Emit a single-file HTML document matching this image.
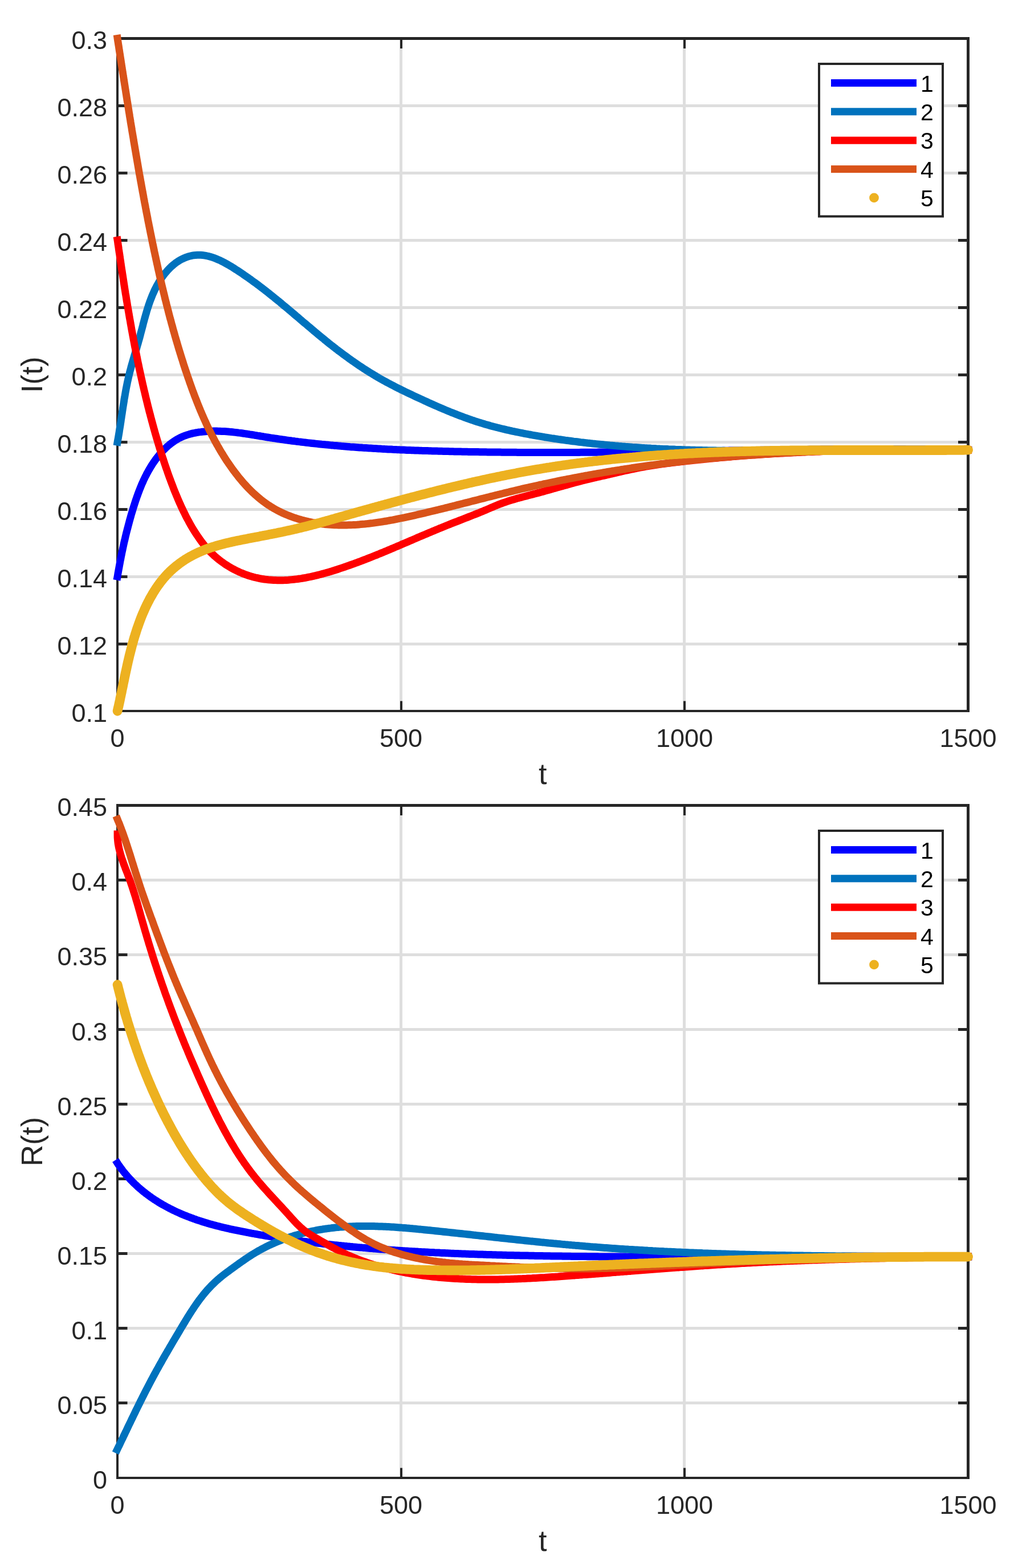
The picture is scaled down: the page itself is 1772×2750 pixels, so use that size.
<!DOCTYPE html>
<html><head><meta charset="utf-8"><title>I(t) and R(t)</title>
<style>html,body{margin:0;padding:0;background:#fff;}svg{display:block;}text{font-family:'Liberation Sans', Arial, Helvetica, sans-serif;}</style>
</head><body>
<svg xmlns="http://www.w3.org/2000/svg" width="1772" height="2750" viewBox="0 0 1772 2750">
<rect width="1772" height="2750" fill="#ffffff"/>
<g fill="#dedede"><rect x="701" y="67.5" width="5" height="1179.5"/><rect x="1198" y="67.5" width="5" height="1179.5"/><rect x="206" y="1127" width="1492.5" height="5"/><rect x="206" y="1009" width="1492.5" height="5"/><rect x="206" y="891" width="1492.5" height="5"/><rect x="206" y="773" width="1492.5" height="5"/><rect x="206" y="655" width="1492.5" height="5"/><rect x="206" y="537" width="1492.5" height="5"/><rect x="206" y="419" width="1492.5" height="5"/><rect x="206" y="301" width="1492.5" height="5"/><rect x="206" y="183" width="1492.5" height="5"/></g>
<g fill="#262626"><rect x="204" y="65" width="4" height="1184"/><rect x="1696" y="65" width="5" height="1184"/><rect x="204" y="65" width="1497" height="5"/><rect x="204" y="1245" width="1497" height="4"/><rect x="702" y="1229.5" width="4" height="17.5"/><rect x="702" y="67.5" width="4" height="17.5"/><rect x="1199" y="1229.5" width="4" height="17.5"/><rect x="1199" y="67.5" width="4" height="17.5"/><rect x="206" y="1127" width="17.5" height="5"/><rect x="1681" y="1127" width="17.5" height="5"/><rect x="206" y="1009" width="17.5" height="5"/><rect x="1681" y="1009" width="17.5" height="5"/><rect x="206" y="891" width="17.5" height="5"/><rect x="1681" y="891" width="17.5" height="5"/><rect x="206" y="773" width="17.5" height="5"/><rect x="1681" y="773" width="17.5" height="5"/><rect x="206" y="655" width="17.5" height="5"/><rect x="1681" y="655" width="17.5" height="5"/><rect x="206" y="537" width="17.5" height="5"/><rect x="1681" y="537" width="17.5" height="5"/><rect x="206" y="419" width="17.5" height="5"/><rect x="1681" y="419" width="17.5" height="5"/><rect x="206" y="301" width="17.5" height="5"/><rect x="1681" y="301" width="17.5" height="5"/><rect x="206" y="183" width="17.5" height="5"/><rect x="1681" y="183" width="17.5" height="5"/></g>
<path d="M206.1,1011.1L206.6,1008.4L207.0,1005.6L207.5,1002.9L208.0,1000.1L208.5,997.4L209.0,994.7L209.5,991.9L210.0,989.2L210.5,986.5L211.0,983.7L211.6,981.0L212.1,978.3L212.6,975.6L213.2,972.9L213.7,970.2L214.3,967.4L214.9,964.7L215.4,962.0L216.0,959.3L216.6,956.6L217.2,953.9L217.8,951.2L218.4,948.5L219.1,945.8L219.7,943.1L220.3,940.4L221.0,937.7L221.6,935.0L222.3,932.4L223.0,929.7L223.7,927.0L224.4,924.3L225.1,921.6L225.8,919.0L226.5,916.3L227.2,913.6L228.0,910.9L228.7,908.3L229.5,905.6L230.2,902.9L231.0,900.3L231.8,897.6L232.6,895.0L233.4,892.3L234.2,889.6L235.1,887.0L235.9,884.3L236.8,881.7L237.6,879.1L238.5,876.4L239.4,873.8L240.3,871.2L241.3,868.6L242.2,865.9L243.2,863.3L244.2,860.7L245.2,858.2L246.2,855.6L247.3,853.0L248.3,850.4L249.4,847.9L250.6,845.4L251.7,842.8L252.9,840.3L254.1,837.8L255.3,835.3L256.6,832.9L257.8,830.4L259.2,828.0L260.5,825.5L261.9,823.1L263.3,820.7L264.8,818.3L266.2,816.0L267.7,813.6L269.3,811.3L270.9,809.0L272.5,806.7L274.2,804.4L275.9,802.2L277.6,800.0L279.4,797.8L281.2,795.7L283.0,793.6L284.9,791.5L286.8,789.5L288.8,787.6L290.8,785.6L292.8,783.7L294.9,781.9L297.0,780.1L299.1,778.4L301.3,776.8L303.5,775.2L305.8,773.6L308.1,772.1L310.4,770.7L312.8,769.4L315.2,768.1L317.7,766.9L320.2,765.8L322.7,764.8L325.3,763.8L327.9,762.9L330.5,762.1L333.2,761.3L335.8,760.6L338.5,759.9L341.3,759.4L344.0,758.8L346.7,758.4L349.5,757.9L352.3,757.6L355.1,757.2L357.9,757.0L360.7,756.7L363.5,756.5L366.3,756.4L369.1,756.2L371.9,756.2L374.7,756.1L377.5,756.1L380.3,756.1L383.1,756.2L385.8,756.2L388.6,756.4L391.4,756.5L394.2,756.6L396.9,756.8L399.7,757.0L402.5,757.3L405.2,757.5L408.0,757.8L410.7,758.1L413.5,758.4L416.3,758.7L419.0,759.1L421.8,759.4L424.5,759.8L427.3,760.2L430.0,760.6L432.7,761.0L435.5,761.4L438.2,761.9L441.0,762.3L443.7,762.7L446.5,763.2L449.2,763.6L451.9,764.1L454.7,764.5L457.4,765.0L460.2,765.4L462.9,765.9L465.6,766.3L468.4,766.8L471.1,767.2L473.9,767.7L476.6,768.1L479.4,768.5L482.1,768.9L484.9,769.3L487.6,769.7L490.3,770.1L493.1,770.5L495.8,770.9L498.6,771.3L501.3,771.7L504.1,772.1L506.8,772.5L509.6,772.8L512.3,773.2L515.1,773.5L517.8,773.9L520.6,774.2L523.3,774.6L526.1,774.9L528.8,775.3L531.6,775.6L534.3,775.9L537.1,776.3L539.8,776.6L542.6,776.9L545.4,777.2L548.1,777.5L550.9,777.8L553.6,778.1L556.4,778.4L559.1,778.7L561.9,779.0L564.7,779.3L567.4,779.5L570.2,779.8L572.9,780.1L575.7,780.3L578.4,780.6L581.2,780.9L584.0,781.1L586.7,781.4L589.5,781.6L592.2,781.8L595.0,782.1L597.8,782.3L600.5,782.6L603.3,782.8L606.1,783.0L608.8,783.2L611.6,783.4L614.3,783.7L617.1,783.9L619.9,784.1L622.6,784.3L625.4,784.5L628.2,784.7L630.9,784.9L633.7,785.1L636.5,785.3L639.2,785.4L642.0,785.6L644.8,785.8L647.5,786.0L650.3,786.1L653.1,786.3L655.8,786.5L658.6,786.6L661.4,786.8L664.1,787.0L666.9,787.1L669.7,787.3L672.4,787.4L675.2,787.6L678.0,787.7L680.8,787.9L683.5,788.0L686.3,788.1L689.1,788.3L691.8,788.4L694.6,788.5L697.4,788.7L700.1,788.8L702.9,788.9L705.7,789.0L708.5,789.1L711.2,789.2L714.0,789.4L716.8,789.5L719.5,789.6L722.3,789.7L725.1,789.8L727.9,789.9L730.6,790.0L733.4,790.1L736.2,790.2L738.9,790.3L741.7,790.4L744.5,790.5L747.3,790.5L750.0,790.6L752.8,790.7L755.6,790.8L758.4,790.9L761.1,791.0L763.9,791.0L766.7,791.1L769.4,791.2L772.2,791.3L775.0,791.3L777.8,791.4L780.5,791.5L783.3,791.5L786.1,791.6L788.9,791.7L791.6,791.7L794.4,791.8L797.2,791.9L800.0,791.9L802.7,792.0L805.5,792.0L808.3,792.1L811.0,792.2L813.8,792.2L816.6,792.3L819.4,792.3L822.1,792.4L824.9,792.4L827.7,792.5L830.5,792.5L833.2,792.6L836.0,792.6L838.8,792.6L841.6,792.7L844.3,792.7L847.1,792.8L849.9,792.8L852.6,792.8L855.4,792.9L858.2,792.9L861.0,792.9L863.7,793.0L866.5,793.0L869.3,793.0L872.1,793.1L874.8,793.1L877.6,793.1L880.4,793.2L883.2,793.2L885.9,793.2L888.7,793.2L891.5,793.2L894.2,793.3L897.0,793.3L899.8,793.3L902.6,793.3L905.3,793.3L908.1,793.4L910.9,793.4L913.7,793.4L916.4,793.4L919.2,793.4L922.0,793.4L924.8,793.4L927.5,793.5L930.3,793.5L933.1,793.5L935.8,793.5L938.6,793.5L941.4,793.5L944.2,793.5L946.9,793.5L949.7,793.5L952.5,793.5L955.3,793.5L958.0,793.5L960.8,793.5L963.6,793.5L966.4,793.5L969.1,793.5L971.9,793.5L974.7,793.5L977.4,793.5L980.2,793.5L983.0,793.5L985.8,793.5L988.5,793.5L991.3,793.5L994.1,793.5L996.9,793.4L999.6,793.4L1002.4,793.4L1005.2,793.4L1008.0,793.4L1010.7,793.4L1013.5,793.4L1016.3,793.4L1019.1,793.3L1021.8,793.3L1024.6,793.3L1027.4,793.3L1030.1,793.3L1032.9,793.3L1035.7,793.2L1038.5,793.2L1041.2,793.2L1044.0,793.2L1046.8,793.2L1049.6,793.1L1052.3,793.1L1055.1,793.1L1057.9,793.1L1060.7,793.0L1063.4,793.0L1066.2,793.0L1069.0,793.0L1071.8,792.9L1074.5,792.9L1077.3,792.9L1080.1,792.9L1082.8,792.8L1085.6,792.8L1088.4,792.8L1091.2,792.8L1093.9,792.7L1096.7,792.7L1099.5,792.7L1102.3,792.6L1105.0,792.6L1107.8,792.6L1110.6,792.5L1113.4,792.5L1116.1,792.5L1118.9,792.4L1121.7,792.4L1124.4,792.4L1127.2,792.3L1130.0,792.3L1132.8,792.3L1135.5,792.2L1138.3,792.2L1141.1,792.2L1143.9,792.1L1146.6,792.1L1149.4,792.1L1152.2,792.0L1155.0,792.0L1157.7,791.9L1160.5,791.9L1163.3,791.9L1166.1,791.8L1168.8,791.8L1171.6,791.7L1174.4,791.7L1177.1,791.7L1179.9,791.6L1182.7,791.6L1185.5,791.6L1188.2,791.5L1191.0,791.5L1193.8,791.4L1196.6,791.4L1199.3,791.3L1202.1,791.3L1204.9,791.3L1207.7,791.2L1210.4,791.2L1213.2,791.1L1216.0,791.1L1218.8,791.1L1221.5,791.0L1224.3,791.0L1227.1,790.9L1229.8,790.9L1232.6,790.9L1235.4,790.8L1238.2,790.8L1240.9,790.7L1243.7,790.7L1246.5,790.6L1249.3,790.6L1252.0,790.6L1254.8,790.5L1257.6,790.5L1260.4,790.4L1263.1,790.4L1265.9,790.4L1268.7,790.3L1271.5,790.3L1274.2,790.2L1277.0,790.2L1279.8,790.1L1282.5,790.1L1285.3,790.1L1288.1,790.0L1290.9,790.0L1293.6,789.9L1296.4,789.9L1299.2,789.9L1302.0,789.8L1304.7,789.8L1307.5,789.7L1310.3,789.7L1313.1,789.7L1315.8,789.6L1318.6,789.6L1321.4,789.5L1324.2,789.5L1326.9,789.5L1329.7,789.4L1332.5,789.4L1335.3,789.3L1338.0,789.3L1340.8,789.3L1343.6,789.2L1346.3,789.2L1349.1,789.2L1351.9,789.1L1354.7,789.1L1357.4,789.0L1360.2,789.0L1363.0,789.0L1365.8,788.9L1368.5,788.9L1371.3,788.9L1374.1,788.8L1376.9,788.8L1379.6,788.8L1382.4,788.7L1385.2,788.7L1388.0,788.7L1390.7,788.6L1393.5,788.6L1396.3,788.6L1399.0,788.5L1401.8,788.5L1404.6,788.5L1407.4,788.5L1410.1,788.4L1412.9,788.4L1415.7,788.4L1418.5,788.3L1421.2,788.3L1424.0,788.3L1426.8,788.3L1429.6,788.2L1432.3,788.2L1435.1,788.2L1437.9,788.2L1440.7,788.1L1443.4,788.1L1446.2,788.1L1449.0,788.1L1451.7,788.0L1454.5,788.0L1457.3,788.0L1460.1,788.0L1462.8,788.0L1465.6,787.9L1468.4,787.9L1471.2,787.9L1473.9,787.9L1476.7,787.9L1479.5,787.9L1482.3,787.9L1485.0,787.8L1487.8,787.8L1490.6,787.8L1493.4,787.8L1496.1,787.8L1498.9,787.8L1501.7,787.8L1504.4,787.8L1507.2,787.7L1510.0,787.7L1512.8,787.7L1515.5,787.7L1518.3,787.7L1521.1,787.7L1523.9,787.7L1526.6,787.7L1529.4,787.7L1532.2,787.7L1535.0,787.7L1537.7,787.7L1540.5,787.7L1543.3,787.7L1546.1,787.7L1548.8,787.7L1551.6,787.7L1554.4,787.7L1557.1,787.7L1559.9,787.7L1562.7,787.7L1565.5,787.7L1568.2,787.7L1571.0,787.8L1573.8,787.8L1576.6,787.8L1579.3,787.8L1582.1,787.8L1584.9,787.8L1587.7,787.8L1590.4,787.9L1593.2,787.9L1596.0,787.9L1598.8,787.9L1601.5,787.9L1604.3,787.9L1607.1,788.0L1609.8,788.0L1612.6,788.0L1615.4,788.0L1618.2,788.1L1620.9,788.1L1623.7,788.1L1626.5,788.2L1629.3,788.2L1632.0,788.2L1634.8,788.2L1637.6,788.3L1640.4,788.3L1643.1,788.3L1645.9,788.4L1648.7,788.4L1651.4,788.5L1654.2,788.5L1657.0,788.5L1659.8,788.6L1662.5,788.6L1665.3,788.7L1668.1,788.7L1670.9,788.8L1673.6,788.8L1676.4,788.9L1679.2,788.9L1682.0,789.0L1684.7,789.0L1687.5,789.1L1690.3,789.1L1693.1,789.2L1695.8,789.2L1698.6,789.3" stroke="#0000ff" stroke-width="13.0" fill="none" stroke-linejoin="round" stroke-linecap="square"/>
<path d="M206.1,775.2L206.6,772.2L207.2,769.3L207.7,766.3L208.2,763.4L208.7,760.4L209.2,757.4L209.6,754.4L210.1,751.4L210.6,748.4L211.1,745.4L211.5,742.4L212.0,739.4L212.4,736.3L212.9,733.3L213.3,730.3L213.8,727.3L214.3,724.2L214.7,721.2L215.2,718.2L215.6,715.2L216.1,712.1L216.6,709.1L217.1,706.1L217.6,703.1L218.0,700.0L218.6,697.0L219.1,694.0L219.6,691.0L220.1,688.0L220.7,685.0L221.2,682.0L221.8,679.0L222.4,676.0L223.0,673.1L223.6,670.1L224.3,667.1L224.9,664.2L225.6,661.3L226.3,658.3L227.0,655.4L227.7,652.5L228.5,649.6L229.3,646.7L230.0,643.8L230.8,640.9L231.7,638.0L232.5,635.1L233.3,632.3L234.1,629.4L235.0,626.5L235.8,623.6L236.7,620.8L237.5,617.9L238.4,615.0L239.3,612.1L240.1,609.2L240.9,606.3L241.8,603.4L242.6,600.5L243.4,597.6L244.3,594.6L245.1,591.7L245.9,588.7L246.6,585.7L247.4,582.8L248.2,579.8L249.0,576.8L249.8,573.8L250.6,570.8L251.3,567.8L252.1,564.8L252.9,561.9L253.7,558.9L254.6,555.9L255.4,552.9L256.3,549.9L257.1,547.0L258.0,544.0L258.9,541.1L259.9,538.1L260.8,535.2L261.8,532.3L262.8,529.4L263.9,526.5L265.0,523.6L266.1,520.8L267.2,518.0L268.4,515.2L269.7,512.4L270.9,509.6L272.2,506.9L273.6,504.2L275.0,501.5L276.5,498.8L278.0,496.2L279.5,493.6L281.1,491.1L282.8,488.5L284.5,486.0L286.3,483.6L288.2,481.1L290.1,478.7L292.1,476.4L294.1,474.1L296.2,471.8L298.4,469.6L300.6,467.5L302.9,465.5L305.3,463.5L307.7,461.6L310.2,459.8L312.7,458.1L315.3,456.5L318.0,455.1L320.7,453.7L323.4,452.5L326.2,451.4L329.0,450.4L331.8,449.5L334.7,448.8L337.6,448.2L340.5,447.7L343.4,447.4L346.3,447.2L349.3,447.2L352.2,447.3L355.1,447.5L358.1,447.9L361.0,448.4L363.9,449.0L366.9,449.7L369.8,450.5L372.7,451.4L375.6,452.4L378.5,453.5L381.3,454.7L384.2,455.9L387.0,457.2L389.8,458.6L392.6,460.0L395.3,461.5L398.0,463.0L400.7,464.5L403.4,466.1L406.1,467.7L408.7,469.3L411.3,471.0L413.9,472.7L416.5,474.3L419.1,476.0L421.6,477.7L424.2,479.4L426.7,481.1L429.2,482.9L431.7,484.6L434.2,486.3L436.7,488.1L439.2,489.8L441.6,491.6L444.1,493.4L446.5,495.2L449.0,496.9L451.4,498.7L453.8,500.5L456.2,502.4L458.6,504.2L461.0,506.0L463.4,507.9L465.8,509.7L468.1,511.6L470.5,513.4L472.9,515.3L475.2,517.2L477.6,519.1L480.0,521.0L482.3,522.9L484.7,524.8L487.0,526.7L489.3,528.6L491.7,530.5L494.0,532.5L496.3,534.4L498.7,536.4L501.0,538.3L503.3,540.2L505.6,542.2L508.0,544.2L510.3,546.1L512.6,548.1L514.9,550.0L517.2,552.0L519.5,554.0L521.9,555.9L524.2,557.9L526.5,559.9L528.8,561.8L531.1,563.8L533.4,565.8L535.8,567.7L538.1,569.7L540.4,571.7L542.7,573.6L545.1,575.6L547.4,577.6L549.7,579.5L552.0,581.5L554.4,583.4L556.7,585.4L559.1,587.3L561.4,589.2L563.8,591.2L566.1,593.1L568.5,595.0L570.8,597.0L573.2,598.9L575.6,600.8L577.9,602.7L580.3,604.6L582.7,606.4L585.1,608.3L587.5,610.2L589.9,612.1L592.3,613.9L594.7,615.8L597.2,617.6L599.6,619.4L602.0,621.2L604.5,623.0L606.9,624.8L609.4,626.6L611.9,628.4L614.3,630.2L616.8,631.9L619.3,633.7L621.8,635.4L624.3,637.1L626.8,638.9L629.3,640.6L631.8,642.3L634.4,643.9L636.9,645.6L639.4,647.3L642.0,648.9L644.5,650.5L647.1,652.1L649.7,653.7L652.3,655.3L654.9,656.9L657.5,658.5L660.1,660.0L662.7,661.6L665.3,663.1L667.9,664.6L670.6,666.1L673.2,667.6L675.9,669.0L678.6,670.5L681.2,671.9L683.9,673.3L686.6,674.7L689.3,676.1L692.0,677.5L694.7,678.9L697.4,680.3L700.1,681.6L702.8,683.0L705.6,684.3L708.3,685.7L711.0,687.0L713.8,688.3L716.5,689.6L719.2,690.9L722.0,692.2L724.7,693.5L727.5,694.8L730.2,696.1L733.0,697.4L735.8,698.7L738.5,699.9L741.3,701.2L744.0,702.5L746.8,703.7L749.6,705.0L752.4,706.3L755.1,707.5L757.9,708.7L760.7,710.0L763.5,711.2L766.2,712.4L769.0,713.6L771.8,714.9L774.6,716.0L777.4,717.2L780.2,718.4L783.0,719.6L785.8,720.8L788.6,721.9L791.4,723.1L794.3,724.2L797.1,725.3L799.9,726.4L802.7,727.5L805.6,728.6L808.4,729.7L811.3,730.7L814.1,731.8L817.0,732.8L819.8,733.9L822.7,734.9L825.5,735.9L828.4,736.9L831.3,737.8L834.2,738.8L837.0,739.7L839.9,740.6L842.8,741.5L845.7,742.4L848.6,743.3L851.6,744.2L854.5,745.0L857.4,745.8L860.3,746.7L863.2,747.5L866.2,748.3L869.1,749.0L872.1,749.8L875.0,750.5L878.0,751.3L880.9,752.0L883.9,752.7L886.8,753.4L889.8,754.1L892.8,754.7L895.7,755.4L898.7,756.1L901.7,756.7L904.7,757.3L907.7,757.9L910.6,758.5L913.6,759.1L916.6,759.7L919.6,760.3L922.6,760.9L925.6,761.4L928.6,762.0L931.6,762.5L934.6,763.1L937.6,763.6L940.6,764.1L943.6,764.7L946.6,765.2L949.6,765.7L952.6,766.2L955.6,766.7L958.6,767.1L961.6,767.6L964.6,768.1L967.6,768.6L970.6,769.0L973.6,769.5L976.6,769.9L979.6,770.4L982.6,770.8L985.6,771.2L988.6,771.6L991.7,772.1L994.7,772.5L997.7,772.9L1000.7,773.3L1003.7,773.7L1006.7,774.1L1009.7,774.4L1012.7,774.8L1015.7,775.2L1018.8,775.6L1021.8,775.9L1024.8,776.3L1027.8,776.6L1030.8,777.0L1033.8,777.3L1036.8,777.6L1039.9,778.0L1042.9,778.3L1045.9,778.6L1048.9,778.9L1051.9,779.2L1055.0,779.5L1058.0,779.8L1061.0,780.1L1064.0,780.4L1067.0,780.7L1070.1,781.0L1073.1,781.2L1076.1,781.5L1079.1,781.8L1082.1,782.0L1085.2,782.3L1088.2,782.5L1091.2,782.8L1094.2,783.0L1097.3,783.3L1100.3,783.5L1103.3,783.7L1106.3,783.9L1109.4,784.2L1112.4,784.4L1115.4,784.6L1118.4,784.8L1121.5,785.0L1124.5,785.2L1127.5,785.4L1130.5,785.6L1133.6,785.7L1136.6,785.9L1139.6,786.1L1142.7,786.3L1145.7,786.4L1148.7,786.6L1151.7,786.8L1154.8,786.9L1157.8,787.1L1160.8,787.2L1163.9,787.4L1166.9,787.5L1169.9,787.6L1173.0,787.8L1176.0,787.9L1179.0,788.0L1182.1,788.1L1185.1,788.3L1188.1,788.4L1191.2,788.5L1194.2,788.6L1197.2,788.7L1200.3,788.8L1203.3,788.9L1206.3,789.0L1209.4,789.1L1212.4,789.2L1215.4,789.3L1218.5,789.3L1221.5,789.4L1224.6,789.5L1227.6,789.6L1230.6,789.6L1233.7,789.7L1236.7,789.8L1239.7,789.8L1242.8,789.9L1245.8,790.0L1248.9,790.0L1251.9,790.1L1254.9,790.1L1258.0,790.2L1261.0,790.2L1264.0,790.3L1267.1,790.3L1270.1,790.3L1273.2,790.4L1276.2,790.4L1279.2,790.4L1282.3,790.5L1285.3,790.5L1288.4,790.5L1291.4,790.5L1294.4,790.5L1297.5,790.6L1300.5,790.6L1303.6,790.6L1306.6,790.6L1309.6,790.6L1312.7,790.6L1315.7,790.6L1318.8,790.6L1321.8,790.6L1324.9,790.6L1327.9,790.6L1330.9,790.6L1334.0,790.6L1337.0,790.6L1340.1,790.6L1343.1,790.6L1346.1,790.6L1349.2,790.6L1352.2,790.5L1355.3,790.5L1358.3,790.5L1361.4,790.5L1364.4,790.5L1367.4,790.5L1370.5,790.4L1373.5,790.4L1376.6,790.4L1379.6,790.4L1382.7,790.3L1385.7,790.3L1388.7,790.3L1391.8,790.3L1394.8,790.2L1397.9,790.2L1400.9,790.2L1404.0,790.1L1407.0,790.1L1410.0,790.1L1413.1,790.0L1416.1,790.0L1419.2,790.0L1422.2,789.9L1425.3,789.9L1428.3,789.8L1431.3,789.8L1434.4,789.8L1437.4,789.7L1440.5,789.7L1443.5,789.7L1446.6,789.6L1449.6,789.6L1452.6,789.5L1455.7,789.5L1458.7,789.5L1461.8,789.4L1464.8,789.4L1467.9,789.3L1470.9,789.3L1473.9,789.3L1477.0,789.2L1480.0,789.2L1483.1,789.1L1486.1,789.1L1489.2,789.1L1492.2,789.0L1495.2,789.0L1498.3,789.0L1501.3,788.9L1504.4,788.9L1507.4,788.8L1510.4,788.8L1513.5,788.8L1516.5,788.7L1519.6,788.7L1522.6,788.7L1525.6,788.6L1528.7,788.6L1531.7,788.6L1534.8,788.6L1537.8,788.5L1540.8,788.5L1543.9,788.5L1546.9,788.4L1550.0,788.4L1553.0,788.4L1556.0,788.4L1559.1,788.4L1562.1,788.3L1565.2,788.3L1568.2,788.3L1571.2,788.3L1574.3,788.3L1577.3,788.3L1580.3,788.2L1583.4,788.2L1586.4,788.2L1589.5,788.2L1592.5,788.2L1595.5,788.2L1598.6,788.2L1601.6,788.2L1604.6,788.2L1607.7,788.2L1610.7,788.2L1613.7,788.2L1616.8,788.2L1619.8,788.2L1622.8,788.3L1625.9,788.3L1628.9,788.3L1631.9,788.3L1635.0,788.3L1638.0,788.3L1641.0,788.4L1644.1,788.4L1647.1,788.4L1650.1,788.5L1653.2,788.5L1656.2,788.5L1659.2,788.6L1662.3,788.6L1665.3,788.6L1668.3,788.7L1671.3,788.7L1674.4,788.8L1677.4,788.8L1680.4,788.9L1683.5,789.0L1686.5,789.0L1689.5,789.1L1692.5,789.2L1695.6,789.2L1698.6,789.3" stroke="#0072bd" stroke-width="13.0" fill="none" stroke-linejoin="round" stroke-linecap="square"/>
<path d="M206.1,421.3L206.6,424.5L207.0,427.8L207.5,431.0L208.0,434.2L208.4,437.4L208.9,440.7L209.4,443.9L209.9,447.1L210.3,450.3L210.8,453.6L211.3,456.8L211.8,460.0L212.2,463.2L212.7,466.5L213.2,469.7L213.7,472.9L214.2,476.1L214.7,479.4L215.2,482.6L215.7,485.8L216.2,489.0L216.7,492.3L217.2,495.5L217.7,498.7L218.2,501.9L218.7,505.2L219.2,508.4L219.7,511.6L220.2,514.8L220.8,518.1L221.3,521.3L221.8,524.5L222.3,527.7L222.9,530.9L223.4,534.2L223.9,537.4L224.5,540.6L225.0,543.8L225.6,547.0L226.1,550.2L226.7,553.5L227.2,556.7L227.8,559.9L228.4,563.1L228.9,566.3L229.5,569.5L230.1,572.7L230.6,575.9L231.2,579.2L231.8,582.4L232.4,585.6L233.0,588.8L233.6,592.0L234.2,595.2L234.8,598.4L235.4,601.6L236.0,604.8L236.6,608.0L237.3,611.2L237.9,614.4L238.5,617.6L239.2,620.8L239.8,624.0L240.4,627.2L241.1,630.4L241.7,633.6L242.4,636.8L243.1,640.0L243.7,643.2L244.4,646.4L245.1,649.6L245.8,652.7L246.5,655.9L247.2,659.1L247.9,662.3L248.6,665.5L249.3,668.7L250.0,671.9L250.7,675.0L251.4,678.2L252.2,681.4L252.9,684.6L253.7,687.7L254.4,690.9L255.2,694.1L255.9,697.3L256.7,700.4L257.5,703.6L258.3,706.8L259.0,709.9L259.8,713.1L260.6,716.2L261.4,719.4L262.2,722.6L263.1,725.7L263.9,728.9L264.7,732.0L265.6,735.2L266.4,738.3L267.3,741.5L268.1,744.6L269.0,747.8L269.8,750.9L270.7,754.1L271.6,757.2L272.5,760.4L273.4,763.5L274.3,766.6L275.2,769.8L276.2,772.9L277.1,776.0L278.0,779.1L279.0,782.3L279.9,785.4L280.9,788.5L281.9,791.6L282.9,794.7L283.8,797.8L284.8,800.9L285.9,804.0L286.9,807.1L287.9,810.2L288.9,813.3L290.0,816.4L291.0,819.5L292.1,822.6L293.2,825.7L294.2,828.7L295.3,831.8L296.4,834.9L297.5,837.9L298.7,841.0L299.8,844.1L300.9,847.1L302.1,850.2L303.3,853.2L304.4,856.2L305.6,859.3L306.8,862.3L308.1,865.3L309.3,868.3L310.6,871.3L311.8,874.3L313.1,877.3L314.4,880.3L315.7,883.3L317.1,886.3L318.4,889.3L319.8,892.2L321.2,895.2L322.6,898.1L324.1,901.0L325.5,904.0L327.0,906.9L328.5,909.8L330.1,912.6L331.6,915.5L333.2,918.4L334.8,921.2L336.4,924.0L338.1,926.8L339.8,929.6L341.5,932.4L343.3,935.1L345.1,937.8L346.9,940.5L348.7,943.2L350.6,945.8L352.5,948.5L354.4,951.1L356.4,953.6L358.4,956.2L360.5,958.7L362.6,961.1L364.8,963.6L367.0,965.9L369.2,968.3L371.6,970.6L373.9,972.8L376.4,975.1L378.8,977.2L381.3,979.3L383.9,981.4L386.5,983.4L389.2,985.4L391.9,987.3L394.6,989.2L397.4,991.0L400.2,992.8L403.0,994.5L405.9,996.2L408.8,997.7L411.7,999.3L414.7,1000.8L417.7,1002.2L420.7,1003.6L423.7,1004.9L426.7,1006.1L429.8,1007.3L432.9,1008.4L436.0,1009.5L439.1,1010.4L442.2,1011.4L445.3,1012.2L448.5,1013.0L451.6,1013.7L454.8,1014.4L457.9,1015.0L461.1,1015.5L464.2,1016.0L467.4,1016.4L470.6,1016.8L473.8,1017.1L477.0,1017.3L480.2,1017.5L483.4,1017.6L486.6,1017.7L489.8,1017.8L493.0,1017.7L496.2,1017.7L499.4,1017.6L502.6,1017.4L505.8,1017.2L509.1,1016.9L512.3,1016.6L515.5,1016.3L518.7,1015.9L522.0,1015.5L525.2,1015.0L528.4,1014.6L531.6,1014.0L534.9,1013.5L538.1,1012.9L541.3,1012.2L544.5,1011.6L547.7,1010.9L551.0,1010.1L554.2,1009.4L557.4,1008.6L560.6,1007.8L563.8,1006.9L567.0,1006.1L570.2,1005.2L573.4,1004.3L576.5,1003.4L579.7,1002.4L582.9,1001.5L586.1,1000.5L589.2,999.5L592.4,998.5L595.5,997.4L598.6,996.4L601.8,995.3L604.9,994.3L608.0,993.2L611.1,992.1L614.2,991.0L617.3,989.9L620.4,988.8L623.5,987.7L626.5,986.6L629.6,985.4L632.7,984.3L635.7,983.1L638.8,981.9L641.8,980.8L644.8,979.6L647.9,978.4L650.9,977.2L653.9,976.0L656.9,974.8L660.0,973.6L663.0,972.4L666.0,971.1L669.0,969.9L672.0,968.7L675.0,967.4L678.0,966.2L681.0,964.9L684.0,963.7L686.9,962.4L689.9,961.2L692.9,959.9L695.9,958.6L698.9,957.4L701.9,956.1L704.8,954.8L707.8,953.5L710.8,952.3L713.8,951.0L716.8,949.7L719.7,948.4L722.7,947.2L725.7,945.9L728.7,944.6L731.7,943.3L734.6,942.0L737.6,940.8L740.6,939.5L743.6,938.2L746.6,937.0L749.6,935.7L752.6,934.4L755.6,933.2L758.6,931.9L761.6,930.7L764.6,929.4L767.6,928.2L770.6,926.9L773.6,925.7L776.7,924.4L779.7,923.2L782.7,922.0L785.8,920.8L788.8,919.6L791.9,918.3L794.9,917.1L798.0,915.9L801.0,914.8L804.1,913.6L807.2,912.4L810.2,911.2L813.3,910.0L816.4,908.8L819.4,907.6L822.5,906.4L825.5,905.2L828.6,904.0L831.7,902.8L834.7,901.6L837.7,900.4L840.8,899.2L843.8,897.9L846.8,896.7L849.8,895.4L852.8,894.2L855.8,892.9L858.8,891.6L861.8,890.3L864.8,889.1L867.7,887.8L870.7,886.6L873.7,885.3L876.7,884.1L879.8,883.0L882.8,881.9L885.9,880.8L888.9,879.8L892.0,878.7L895.1,877.8L898.3,876.8L901.4,875.9L904.5,875.0L907.7,874.1L910.8,873.2L914.0,872.4L917.1,871.5L920.3,870.7L923.5,869.9L926.6,869.0L929.8,868.2L933.0,867.4L936.2,866.6L939.3,865.7L942.5,864.9L945.6,864.1L948.8,863.2L952.0,862.4L955.1,861.5L958.3,860.6L961.4,859.7L964.5,858.9L967.7,858.0L970.8,857.1L974.0,856.2L977.1,855.3L980.2,854.5L983.4,853.6L986.5,852.7L989.6,851.8L992.8,850.9L995.9,850.1L999.0,849.2L1002.2,848.3L1005.3,847.5L1008.5,846.6L1011.6,845.8L1014.8,845.0L1017.9,844.1L1021.1,843.3L1024.2,842.5L1027.4,841.7L1030.5,841.0L1033.7,840.2L1036.9,839.4L1040.0,838.7L1043.2,838.0L1046.4,837.2L1049.6,836.5L1052.7,835.8L1055.9,835.0L1059.1,834.3L1062.3,833.6L1065.4,832.8L1068.6,832.1L1071.8,831.3L1075.0,830.6L1078.1,829.9L1081.3,829.1L1084.5,828.4L1087.7,827.7L1090.8,826.9L1094.0,826.2L1097.2,825.5L1100.4,824.8L1103.6,824.1L1106.7,823.4L1109.9,822.8L1113.1,822.1L1116.3,821.5L1119.5,820.8L1122.7,820.2L1125.9,819.6L1129.1,819.0L1132.3,818.4L1135.5,817.9L1138.7,817.3L1141.9,816.8L1145.2,816.3L1148.4,815.8L1151.6,815.3L1154.8,814.8L1158.1,814.4L1161.3,813.9L1164.5,813.5L1167.8,813.1L1171.0,812.6L1174.3,812.2L1177.5,811.8L1180.7,811.4L1184.0,811.0L1187.2,810.6L1190.5,810.3L1193.7,809.9L1197.0,809.5L1200.2,809.1L1203.5,808.8L1206.7,808.4L1209.9,808.0L1213.2,807.7L1216.4,807.3L1219.7,807.0L1222.9,806.7L1226.2,806.3L1229.4,806.0L1232.7,805.7L1235.9,805.3L1239.2,805.0L1242.4,804.7L1245.7,804.4L1248.9,804.1L1252.2,803.8L1255.4,803.5L1258.7,803.2L1261.9,802.9L1265.2,802.6L1268.4,802.3L1271.7,802.0L1274.9,801.7L1278.2,801.4L1281.4,801.2L1284.7,800.9L1287.9,800.6L1291.2,800.4L1294.4,800.1L1297.7,799.8L1300.9,799.6L1304.2,799.3L1307.4,799.1L1310.7,798.8L1313.9,798.6L1317.2,798.4L1320.4,798.1L1323.7,797.9L1326.9,797.7L1330.2,797.5L1333.4,797.2L1336.7,797.0L1340.0,796.8L1343.2,796.6L1346.5,796.4L1349.7,796.2L1353.0,796.0L1356.2,795.8L1359.5,795.6L1362.7,795.4L1366.0,795.2L1369.3,795.0L1372.5,794.9L1375.8,794.7L1379.0,794.5L1382.3,794.3L1385.5,794.2L1388.8,794.0L1392.0,793.8L1395.3,793.7L1398.6,793.5L1401.8,793.4L1405.1,793.2L1408.3,793.1L1411.6,792.9L1414.8,792.8L1418.1,792.6L1421.4,792.5L1424.6,792.4L1427.9,792.2L1431.1,792.1L1434.4,792.0L1437.7,791.9L1440.9,791.7L1444.2,791.6L1447.4,791.5L1450.7,791.4L1454.0,791.3L1457.2,791.2L1460.5,791.1L1463.7,791.0L1467.0,790.9L1470.2,790.8L1473.5,790.7L1476.8,790.6L1480.0,790.5L1483.3,790.4L1486.6,790.3L1489.8,790.3L1493.1,790.2L1496.3,790.1L1499.6,790.0L1502.9,790.0L1506.1,789.9L1509.4,789.8L1512.6,789.8L1515.9,789.7L1519.2,789.6L1522.4,789.6L1525.7,789.5L1528.9,789.5L1532.2,789.4L1535.5,789.4L1538.7,789.3L1542.0,789.3L1545.3,789.2L1548.5,789.2L1551.8,789.2L1555.0,789.1L1558.3,789.1L1561.6,789.1L1564.8,789.0L1568.1,789.0L1571.3,789.0L1574.6,788.9L1577.9,788.9L1581.1,788.9L1584.4,788.9L1587.7,788.9L1590.9,788.9L1594.2,788.8L1597.4,788.8L1600.7,788.8L1604.0,788.8L1607.2,788.8L1610.5,788.8L1613.8,788.8L1617.0,788.8L1620.3,788.8L1623.6,788.8L1626.8,788.8L1630.1,788.8L1633.3,788.8L1636.6,788.8L1639.9,788.8L1643.1,788.9L1646.4,788.9L1649.7,788.9L1652.9,788.9L1656.2,788.9L1659.4,788.9L1662.7,789.0L1666.0,789.0L1669.2,789.0L1672.5,789.0L1675.8,789.1L1679.0,789.1L1682.3,789.1L1685.5,789.2L1688.8,789.2L1692.1,789.2L1695.3,789.3L1698.6,789.3" stroke="#ff0000" stroke-width="13.0" fill="none" stroke-linejoin="round" stroke-linecap="square"/>
<path d="M206.1,67.4L206.6,70.9L207.2,74.4L207.7,77.9L208.3,81.4L208.8,84.9L209.3,88.4L209.9,91.9L210.4,95.4L211.0,98.9L211.5,102.4L212.1,105.9L212.6,109.4L213.1,112.9L213.7,116.4L214.2,119.9L214.8,123.4L215.3,126.9L215.9,130.4L216.4,133.9L217.0,137.4L217.5,140.9L218.1,144.4L218.6,147.9L219.2,151.4L219.7,154.9L220.3,158.4L220.8,161.9L221.4,165.4L221.9,168.9L222.5,172.4L223.0,175.9L223.6,179.4L224.2,182.9L224.7,186.4L225.3,189.9L225.8,193.4L226.4,197.0L227.0,200.5L227.5,204.0L228.1,207.5L228.7,211.0L229.2,214.5L229.8,218.0L230.4,221.5L231.0,225.0L231.5,228.5L232.1,232.0L232.7,235.5L233.3,239.0L233.9,242.4L234.4,245.9L235.0,249.4L235.6,252.9L236.2,256.4L236.8,259.9L237.4,263.4L238.0,266.9L238.6,270.4L239.2,273.9L239.8,277.4L240.4,280.9L241.0,284.4L241.6,287.9L242.2,291.4L242.8,294.9L243.4,298.4L244.0,301.9L244.6,305.4L245.3,308.9L245.9,312.4L246.5,315.8L247.1,319.3L247.8,322.8L248.4,326.3L249.0,329.8L249.7,333.3L250.3,336.8L251.0,340.3L251.6,343.7L252.2,347.2L252.9,350.7L253.5,354.2L254.2,357.7L254.9,361.2L255.5,364.7L256.2,368.1L256.8,371.6L257.5,375.1L258.2,378.6L258.9,382.1L259.5,385.5L260.2,389.0L260.9,392.5L261.6,396.0L262.3,399.4L263.0,402.9L263.7,406.4L264.4,409.9L265.1,413.3L265.8,416.8L266.5,420.3L267.2,423.8L267.9,427.2L268.7,430.7L269.4,434.2L270.1,437.6L270.8,441.1L271.6,444.6L272.3,448.0L273.1,451.5L273.8,455.0L274.6,458.4L275.3,461.9L276.1,465.3L276.8,468.8L277.6,472.3L278.4,475.7L279.2,479.2L279.9,482.6L280.7,486.1L281.5,489.5L282.3,493.0L283.1,496.4L283.9,499.9L284.7,503.3L285.6,506.8L286.4,510.2L287.2,513.6L288.1,517.1L288.9,520.5L289.7,524.0L290.6,527.4L291.5,530.8L292.3,534.3L293.2,537.7L294.1,541.1L295.0,544.6L295.8,548.0L296.7,551.4L297.6,554.8L298.5,558.3L299.5,561.7L300.4,565.1L301.3,568.5L302.3,571.9L303.2,575.4L304.1,578.8L305.1,582.2L306.1,585.6L307.0,589.0L308.0,592.4L309.0,595.8L310.0,599.2L311.0,602.6L312.0,606.0L313.0,609.4L314.0,612.8L315.1,616.2L316.1,619.6L317.2,623.0L318.2,626.4L319.3,629.7L320.4,633.1L321.4,636.5L322.5,639.9L323.6,643.3L324.7,646.6L325.8,650.0L327.0,653.4L328.1,656.7L329.2,660.1L330.4,663.5L331.6,666.8L332.7,670.2L333.9,673.5L335.1,676.9L336.3,680.2L337.5,683.6L338.7,686.9L340.0,690.2L341.2,693.6L342.5,696.9L343.8,700.2L345.1,703.5L346.4,706.8L347.7,710.1L349.0,713.4L350.4,716.7L351.7,720.0L353.1,723.2L354.5,726.5L355.9,729.7L357.3,733.0L358.8,736.2L360.3,739.4L361.7,742.7L363.2,745.9L364.7,749.1L366.3,752.3L367.8,755.4L369.4,758.6L371.0,761.8L372.6,764.9L374.3,768.0L375.9,771.2L377.6,774.3L379.3,777.4L381.0,780.5L382.8,783.5L384.5,786.6L386.3,789.7L388.1,792.7L390.0,795.7L391.8,798.7L393.7,801.7L395.6,804.7L397.5,807.7L399.5,810.6L401.5,813.5L403.5,816.4L405.5,819.3L407.6,822.2L409.7,825.1L411.8,827.9L414.0,830.8L416.2,833.6L418.4,836.4L420.6,839.1L422.9,841.8L425.2,844.6L427.5,847.2L429.9,849.9L432.3,852.5L434.7,855.1L437.2,857.6L439.7,860.1L442.2,862.6L444.8,865.0L447.4,867.4L450.0,869.7L452.7,872.0L455.4,874.3L458.1,876.5L460.9,878.7L463.8,880.8L466.6,882.9L469.5,884.9L472.5,886.8L475.5,888.7L478.5,890.6L481.6,892.4L484.7,894.1L487.8,895.8L491.0,897.4L494.2,899.0L497.5,900.5L500.8,901.9L504.1,903.3L507.4,904.6L510.7,905.9L514.1,907.1L517.5,908.3L520.9,909.4L524.3,910.5L527.7,911.4L531.1,912.4L534.6,913.3L538.0,914.1L541.5,914.9L545.0,915.6L548.4,916.3L551.9,916.9L555.4,917.5L558.9,918.0L562.4,918.5L565.9,919.0L569.4,919.4L572.9,919.7L576.5,920.0L580.0,920.3L583.5,920.5L587.0,920.7L590.6,920.8L594.1,920.9L597.7,921.0L601.2,921.0L604.7,921.0L608.3,920.9L611.8,920.8L615.4,920.7L618.9,920.6L622.5,920.4L626.0,920.2L629.6,919.9L633.1,919.6L636.6,919.3L640.2,919.0L643.7,918.6L647.2,918.2L650.7,917.8L654.3,917.4L657.8,916.9L661.3,916.4L664.8,915.9L668.3,915.4L671.8,914.8L675.3,914.2L678.8,913.7L682.3,913.0L685.8,912.4L689.2,911.8L692.7,911.1L696.2,910.4L699.7,909.7L703.1,909.0L706.6,908.3L710.1,907.6L713.5,906.8L717.0,906.1L720.5,905.3L723.9,904.6L727.4,903.8L730.8,903.0L734.3,902.2L737.7,901.4L741.2,900.6L744.6,899.8L748.1,899.0L751.5,898.2L755.0,897.3L758.4,896.5L761.9,895.7L765.3,894.8L768.8,894.0L772.2,893.2L775.6,892.3L779.1,891.5L782.5,890.6L786.0,889.7L789.4,888.9L792.8,888.0L796.3,887.2L799.7,886.3L803.1,885.4L806.6,884.5L810.0,883.7L813.4,882.8L816.9,881.9L820.3,881.1L823.7,880.2L827.2,879.3L830.6,878.4L834.0,877.6L837.5,876.7L840.9,875.8L844.3,874.9L847.8,874.1L851.2,873.2L854.7,872.3L858.1,871.5L861.5,870.6L865.0,869.7L868.4,868.9L871.8,868.0L875.3,867.2L878.7,866.3L882.2,865.5L885.6,864.6L889.0,863.8L892.5,863.0L895.9,862.1L899.4,861.3L902.8,860.5L906.3,859.7L909.7,858.8L913.2,858.0L916.6,857.2L920.1,856.4L923.5,855.6L927.0,854.9L930.4,854.1L933.9,853.3L937.4,852.5L940.8,851.8L944.3,851.0L947.7,850.2L951.2,849.5L954.7,848.7L958.1,848.0L961.6,847.3L965.1,846.5L968.5,845.8L972.0,845.1L975.5,844.4L979.0,843.6L982.4,842.9L985.9,842.2L989.4,841.5L992.9,840.9L996.3,840.2L999.8,839.5L1003.3,838.8L1006.8,838.1L1010.3,837.5L1013.7,836.8L1017.2,836.2L1020.7,835.5L1024.2,834.9L1027.7,834.2L1031.2,833.6L1034.7,832.9L1038.1,832.3L1041.6,831.7L1045.1,831.1L1048.6,830.5L1052.1,829.9L1055.6,829.3L1059.1,828.7L1062.6,828.1L1066.1,827.5L1069.6,826.9L1073.1,826.3L1076.6,825.8L1080.1,825.2L1083.6,824.6L1087.1,824.1L1090.6,823.5L1094.1,823.0L1097.6,822.4L1101.1,821.9L1104.6,821.4L1108.1,820.8L1111.6,820.3L1115.1,819.8L1118.6,819.3L1122.2,818.8L1125.7,818.3L1129.2,817.8L1132.7,817.3L1136.2,816.8L1139.7,816.3L1143.2,815.8L1146.7,815.4L1150.3,814.9L1153.8,814.4L1157.3,814.0L1160.8,813.5L1164.3,813.1L1167.8,812.6L1171.4,812.2L1174.9,811.8L1178.4,811.3L1181.9,810.9L1185.4,810.5L1188.9,810.1L1192.5,809.7L1196.0,809.3L1199.5,808.8L1203.0,808.5L1206.6,808.1L1210.1,807.7L1213.6,807.3L1217.1,806.9L1220.7,806.5L1224.2,806.2L1227.7,805.8L1231.2,805.5L1234.8,805.1L1238.3,804.8L1241.8,804.4L1245.3,804.1L1248.9,803.7L1252.4,803.4L1255.9,803.1L1259.4,802.7L1263.0,802.4L1266.5,802.1L1270.0,801.8L1273.6,801.5L1277.1,801.2L1280.6,800.9L1284.2,800.6L1287.7,800.3L1291.2,800.0L1294.8,799.8L1298.3,799.5L1301.8,799.2L1305.4,798.9L1308.9,798.7L1312.4,798.4L1316.0,798.2L1319.5,797.9L1323.0,797.7L1326.6,797.4L1330.1,797.2L1333.6,796.9L1337.2,796.7L1340.7,796.5L1344.3,796.3L1347.8,796.0L1351.3,795.8L1354.9,795.6L1358.4,795.4L1361.9,795.2L1365.5,795.0L1369.0,794.8L1372.6,794.6L1376.1,794.4L1379.6,794.2L1383.2,794.0L1386.7,793.9L1390.3,793.7L1393.8,793.5L1397.3,793.3L1400.9,793.2L1404.4,793.0L1408.0,792.8L1411.5,792.7L1415.0,792.5L1418.6,792.4L1422.1,792.2L1425.7,792.1L1429.2,792.0L1432.8,791.8L1436.3,791.7L1439.8,791.6L1443.4,791.4L1446.9,791.3L1450.5,791.2L1454.0,791.1L1457.6,791.0L1461.1,790.9L1464.6,790.8L1468.2,790.6L1471.7,790.5L1475.3,790.4L1478.8,790.4L1482.4,790.3L1485.9,790.2L1489.5,790.1L1493.0,790.0L1496.5,789.9L1500.1,789.8L1503.6,789.8L1507.2,789.7L1510.7,789.6L1514.3,789.6L1517.8,789.5L1521.4,789.4L1524.9,789.4L1528.5,789.3L1532.0,789.3L1535.5,789.2L1539.1,789.2L1542.6,789.1L1546.2,789.1L1549.7,789.0L1553.3,789.0L1556.8,789.0L1560.4,788.9L1563.9,788.9L1567.5,788.9L1571.0,788.8L1574.5,788.8L1578.1,788.8L1581.6,788.8L1585.2,788.8L1588.7,788.7L1592.3,788.7L1595.8,788.7L1599.4,788.7L1602.9,788.7L1606.5,788.7L1610.0,788.7L1613.5,788.7L1617.1,788.7L1620.6,788.7L1624.2,788.7L1627.7,788.7L1631.3,788.7L1634.8,788.8L1638.4,788.8L1641.9,788.8L1645.4,788.8L1649.0,788.8L1652.5,788.9L1656.1,788.9L1659.6,788.9L1663.2,788.9L1666.7,789.0L1670.3,789.0L1673.8,789.0L1677.3,789.1L1680.9,789.1L1684.4,789.1L1688.0,789.2L1691.5,789.2L1695.1,789.3L1698.6,789.3" stroke="#d95319" stroke-width="13.0" fill="none" stroke-linejoin="round" stroke-linecap="square"/>
<path d="M206.1,1247.0L206.7,1244.2L207.3,1241.5L208.0,1238.7L208.6,1236.0L209.2,1233.2L209.8,1230.5L210.4,1227.7L210.9,1224.9L211.5,1222.2L212.1,1219.4L212.7,1216.6L213.3,1213.9L213.8,1211.1L214.4,1208.3L215.0,1205.6L215.6,1202.8L216.1,1200.0L216.7,1197.3L217.3,1194.5L217.9,1191.7L218.4,1189.0L219.0,1186.2L219.6,1183.4L220.2,1180.6L220.8,1177.9L221.4,1175.1L222.0,1172.4L222.6,1169.6L223.2,1166.8L223.8,1164.1L224.4,1161.3L225.1,1158.5L225.7,1155.8L226.4,1153.0L227.0,1150.3L227.7,1147.5L228.4,1144.8L229.1,1142.0L229.8,1139.3L230.5,1136.6L231.2,1133.8L231.9,1131.1L232.7,1128.3L233.5,1125.6L234.2,1122.9L235.0,1120.2L235.8,1117.4L236.7,1114.7L237.5,1112.0L238.4,1109.3L239.2,1106.6L240.1,1103.9L241.0,1101.2L242.0,1098.5L242.9,1095.8L243.9,1093.1L244.9,1090.4L245.9,1087.7L246.9,1085.1L247.9,1082.4L249.0,1079.7L250.1,1077.1L251.2,1074.5L252.4,1071.8L253.5,1069.2L254.7,1066.6L255.9,1064.0L257.1,1061.4L258.4,1058.9L259.7,1056.3L261.0,1053.8L262.3,1051.2L263.7,1048.7L265.1,1046.3L266.5,1043.8L267.9,1041.3L269.4,1038.9L270.9,1036.5L272.4,1034.1L273.9,1031.8L275.5,1029.5L277.1,1027.1L278.8,1024.9L280.4,1022.6L282.1,1020.4L283.9,1018.2L285.6,1016.0L287.4,1013.9L289.3,1011.7L291.1,1009.7L293.0,1007.6L294.9,1005.6L296.9,1003.6L298.9,1001.7L300.9,999.8L303.0,997.9L305.1,996.1L307.2,994.3L309.4,992.5L311.6,990.8L313.8,989.1L316.0,987.4L318.3,985.8L320.6,984.2L322.9,982.7L325.3,981.1L327.7,979.7L330.1,978.2L332.5,976.8L335.0,975.5L337.5,974.1L340.0,972.8L342.5,971.6L345.0,970.3L347.6,969.1L350.2,968.0L352.7,966.9L355.4,965.8L358.0,964.7L360.6,963.7L363.3,962.7L365.9,961.8L368.6,960.8L371.3,959.9L374.0,959.1L376.7,958.2L379.4,957.4L382.2,956.6L384.9,955.8L387.6,955.1L390.4,954.4L393.2,953.6L395.9,952.9L398.7,952.3L401.5,951.6L404.3,951.0L407.1,950.3L409.9,949.7L412.7,949.1L415.5,948.5L418.3,947.9L421.1,947.4L424.0,946.8L426.8,946.3L429.6,945.7L432.4,945.2L435.2,944.6L438.0,944.1L440.8,943.5L443.6,943.0L446.4,942.5L449.2,941.9L452.0,941.4L454.8,940.9L457.6,940.3L460.4,939.8L463.2,939.2L466.0,938.7L468.8,938.2L471.5,937.6L474.3,937.1L477.1,936.5L479.9,936.0L482.6,935.4L485.4,934.9L488.2,934.3L490.9,933.7L493.7,933.2L496.5,932.6L499.2,932.0L502.0,931.4L504.7,930.8L507.5,930.2L510.2,929.6L513.0,929.0L515.7,928.4L518.5,927.7L521.2,927.1L523.9,926.4L526.7,925.8L529.4,925.1L532.1,924.4L534.9,923.8L537.6,923.1L540.3,922.4L543.1,921.7L545.8,921.0L548.5,920.2L551.2,919.5L554.0,918.8L556.7,918.0L559.4,917.3L562.1,916.6L564.9,915.8L567.6,915.0L570.3,914.3L573.0,913.5L575.7,912.8L578.5,912.0L581.2,911.2L583.9,910.5L586.6,909.7L589.3,908.9L592.1,908.1L594.8,907.4L597.5,906.6L600.2,905.8L602.9,905.1L605.7,904.3L608.4,903.5L611.1,902.8L613.8,902.0L616.6,901.2L619.3,900.5L622.0,899.7L624.7,898.9L627.5,898.2L630.2,897.4L632.9,896.6L635.6,895.9L638.4,895.1L641.1,894.3L643.8,893.6L646.6,892.8L649.3,892.1L652.0,891.3L654.7,890.5L657.5,889.8L660.2,889.0L662.9,888.3L665.7,887.5L668.4,886.8L671.1,886.0L673.9,885.3L676.6,884.5L679.3,883.8L682.1,883.0L684.8,882.3L687.6,881.5L690.3,880.8L693.0,880.1L695.8,879.3L698.5,878.6L701.2,877.8L704.0,877.1L706.7,876.4L709.5,875.6L712.2,874.9L714.9,874.2L717.7,873.5L720.4,872.7L723.2,872.0L725.9,871.3L728.7,870.6L731.4,869.9L734.1,869.1L736.9,868.4L739.6,867.7L742.4,867.0L745.1,866.3L747.9,865.6L750.6,864.9L753.4,864.2L756.1,863.5L758.9,862.8L761.6,862.1L764.4,861.4L767.1,860.7L769.9,860.0L772.6,859.3L775.4,858.7L778.1,858.0L780.9,857.3L783.6,856.6L786.4,855.9L789.1,855.3L791.9,854.6L794.7,853.9L797.4,853.3L800.2,852.6L802.9,852.0L805.7,851.3L808.5,850.7L811.2,850.0L814.0,849.4L816.7,848.7L819.5,848.1L822.3,847.4L825.0,846.8L827.8,846.2L830.5,845.5L833.3,844.9L836.1,844.3L838.8,843.7L841.6,843.1L844.4,842.5L847.1,841.8L849.9,841.2L852.7,840.6L855.4,840.0L858.2,839.4L861.0,838.8L863.7,838.3L866.5,837.7L869.3,837.1L872.1,836.5L874.8,835.9L877.6,835.4L880.4,834.8L883.2,834.2L885.9,833.7L888.7,833.1L891.5,832.6L894.3,832.0L897.0,831.5L899.8,830.9L902.6,830.4L905.4,829.9L908.1,829.3L910.9,828.8L913.7,828.3L916.5,827.8L919.3,827.3L922.1,826.8L924.8,826.3L927.6,825.8L930.4,825.3L933.2,824.8L936.0,824.3L938.8,823.8L941.6,823.3L944.3,822.9L947.1,822.4L949.9,821.9L952.7,821.5L955.5,821.0L958.3,820.6L961.1,820.1L963.9,819.7L966.7,819.2L969.5,818.8L972.3,818.4L975.0,817.9L977.8,817.5L980.6,817.1L983.4,816.7L986.2,816.3L989.0,815.9L991.8,815.5L994.6,815.1L997.4,814.7L1000.2,814.3L1003.0,813.9L1005.8,813.5L1008.6,813.2L1011.4,812.8L1014.2,812.4L1017.0,812.1L1019.8,811.7L1022.6,811.3L1025.4,811.0L1028.2,810.6L1031.0,810.3L1033.9,809.9L1036.7,809.6L1039.5,809.3L1042.3,808.9L1045.1,808.6L1047.9,808.3L1050.7,808.0L1053.5,807.7L1056.3,807.3L1059.1,807.0L1061.9,806.7L1064.7,806.4L1067.6,806.1L1070.4,805.8L1073.2,805.5L1076.0,805.2L1078.8,805.0L1081.6,804.7L1084.4,804.4L1087.2,804.1L1090.1,803.9L1092.9,803.6L1095.7,803.3L1098.5,803.1L1101.3,802.8L1104.1,802.6L1107.0,802.3L1109.8,802.1L1112.6,801.8L1115.4,801.6L1118.2,801.3L1121.1,801.1L1123.9,800.9L1126.7,800.6L1129.5,800.4L1132.3,800.2L1135.2,800.0L1138.0,799.7L1140.8,799.5L1143.6,799.3L1146.4,799.1L1149.3,798.9L1152.1,798.7L1154.9,798.5L1157.7,798.3L1160.6,798.1L1163.4,797.9L1166.2,797.7L1169.0,797.6L1171.9,797.4L1174.7,797.2L1177.5,797.0L1180.3,796.8L1183.2,796.7L1186.0,796.5L1188.8,796.3L1191.6,796.2L1194.5,796.0L1197.3,795.8L1200.1,795.7L1203.0,795.5L1205.8,795.4L1208.6,795.2L1211.4,795.1L1214.3,795.0L1217.1,794.8L1219.9,794.7L1222.8,794.5L1225.6,794.4L1228.4,794.3L1231.3,794.1L1234.1,794.0L1236.9,793.9L1239.7,793.8L1242.6,793.6L1245.4,793.5L1248.2,793.4L1251.1,793.3L1253.9,793.2L1256.7,793.1L1259.6,793.0L1262.4,792.9L1265.2,792.8L1268.1,792.7L1270.9,792.6L1273.7,792.5L1276.6,792.4L1279.4,792.3L1282.2,792.2L1285.1,792.1L1287.9,792.0L1290.7,791.9L1293.6,791.8L1296.4,791.8L1299.3,791.7L1302.1,791.6L1304.9,791.5L1307.8,791.5L1310.6,791.4L1313.4,791.3L1316.3,791.3L1319.1,791.2L1321.9,791.1L1324.8,791.1L1327.6,791.0L1330.5,790.9L1333.3,790.9L1336.1,790.8L1339.0,790.8L1341.8,790.7L1344.6,790.7L1347.5,790.6L1350.3,790.6L1353.1,790.5L1356.0,790.5L1358.8,790.4L1361.7,790.4L1364.5,790.3L1367.3,790.3L1370.2,790.2L1373.0,790.2L1375.8,790.2L1378.7,790.1L1381.5,790.1L1384.4,790.1L1387.2,790.0L1390.0,790.0L1392.9,790.0L1395.7,789.9L1398.6,789.9L1401.4,789.9L1404.2,789.9L1407.1,789.8L1409.9,789.8L1412.7,789.8L1415.6,789.8L1418.4,789.8L1421.3,789.7L1424.1,789.7L1426.9,789.7L1429.8,789.7L1432.6,789.7L1435.4,789.7L1438.3,789.6L1441.1,789.6L1444.0,789.6L1446.8,789.6L1449.6,789.6L1452.5,789.6L1455.3,789.6L1458.1,789.6L1461.0,789.6L1463.8,789.5L1466.6,789.5L1469.5,789.5L1472.3,789.5L1475.2,789.5L1478.0,789.5L1480.8,789.5L1483.7,789.5L1486.5,789.5L1489.3,789.5L1492.2,789.5L1495.0,789.5L1497.8,789.5L1500.7,789.5L1503.5,789.5L1506.4,789.5L1509.2,789.5L1512.0,789.5L1514.9,789.5L1517.7,789.5L1520.5,789.5L1523.4,789.5L1526.2,789.5L1529.0,789.5L1531.9,789.5L1534.7,789.5L1537.5,789.5L1540.4,789.5L1543.2,789.5L1546.0,789.5L1548.9,789.5L1551.7,789.5L1554.5,789.5L1557.4,789.5L1560.2,789.5L1563.0,789.5L1565.9,789.5L1568.7,789.6L1571.5,789.6L1574.3,789.6L1577.2,789.6L1580.0,789.6L1582.8,789.6L1585.7,789.6L1588.5,789.6L1591.3,789.6L1594.2,789.6L1597.0,789.6L1599.8,789.6L1602.6,789.6L1605.5,789.6L1608.3,789.6L1611.1,789.6L1613.9,789.6L1616.8,789.6L1619.6,789.6L1622.4,789.6L1625.2,789.5L1628.1,789.5L1630.9,789.5L1633.7,789.5L1636.5,789.5L1639.4,789.5L1642.2,789.5L1645.0,789.5L1647.8,789.5L1650.7,789.5L1653.5,789.5L1656.3,789.5L1659.1,789.5L1662.0,789.4L1664.8,789.4L1667.6,789.4L1670.4,789.4L1673.2,789.4L1676.1,789.4L1678.9,789.3L1681.7,789.3L1684.5,789.3L1687.3,789.3L1690.1,789.3L1693.0,789.2L1695.8,789.2L1698.6,789.2" stroke="#edb120" stroke-width="16.8" fill="none" stroke-linecap="round" stroke-linejoin="round"/>
<g font-size="45" fill="#262626"><text x="188" y="1265.8" text-anchor="end">0.1</text><text x="188" y="1147.8" text-anchor="end">0.12</text><text x="188" y="1029.9" text-anchor="end">0.14</text><text x="188" y="911.9" text-anchor="end">0.16</text><text x="188" y="794.0" text-anchor="end">0.18</text><text x="188" y="676.0" text-anchor="end">0.2</text><text x="188" y="558.1" text-anchor="end">0.22</text><text x="188" y="440.2" text-anchor="end">0.24</text><text x="188" y="322.2" text-anchor="end">0.26</text><text x="188" y="204.3" text-anchor="end">0.28</text><text x="188" y="86.3" text-anchor="end">0.3</text><text x="206.0" y="1310.0" text-anchor="middle">0</text><text x="703.5" y="1310.0" text-anchor="middle">500</text><text x="1201.0" y="1310.0" text-anchor="middle">1000</text><text x="1698.5" y="1310.0" text-anchor="middle">1500</text></g>
<text x="952.2" y="1374.8" font-size="52" fill="#262626" text-anchor="middle">t</text>
<text transform="translate(73.5,657.2) rotate(-90)" font-size="52" fill="#262626" text-anchor="middle">I(t)</text>
<rect x="1437" y="112.0" width="217.0" height="267.5" fill="#ffffff" stroke="#262626" stroke-width="4"/>
<rect x="1458" y="139.0" width="150" height="13" fill="#0000ff"/>
<text x="1615" y="160.7" font-size="41" fill="#000">1</text>
<rect x="1458" y="189.3" width="150" height="13" fill="#0072bd"/>
<text x="1615" y="211.0" font-size="41" fill="#000">2</text>
<rect x="1458" y="239.7" width="150" height="13" fill="#ff0000"/>
<text x="1615" y="261.4" font-size="41" fill="#000">3</text>
<rect x="1458" y="290.1" width="150" height="13" fill="#d95319"/>
<text x="1615" y="311.8" font-size="41" fill="#000">4</text>
<circle cx="1533.5" cy="346.9" r="8.4" fill="#edb120"/>
<text x="1615" y="362.1" font-size="41" fill="#000">5</text>
<g fill="#dedede"><rect x="701" y="1412.5" width="5" height="1179.5"/><rect x="1198" y="1412.5" width="5" height="1179.5"/><rect x="206" y="2458" width="1492.5" height="5"/><rect x="206" y="2327" width="1492.5" height="5"/><rect x="206" y="2196" width="1492.5" height="5"/><rect x="206" y="2065" width="1492.5" height="5"/><rect x="206" y="1934" width="1492.5" height="5"/><rect x="206" y="1803" width="1492.5" height="5"/><rect x="206" y="1672" width="1492.5" height="5"/><rect x="206" y="1541" width="1492.5" height="5"/></g>
<g fill="#262626"><rect x="204" y="1410" width="4" height="1184"/><rect x="1696" y="1410" width="5" height="1184"/><rect x="204" y="1410" width="1497" height="5"/><rect x="204" y="2590" width="1497" height="4"/><rect x="702" y="2574.5" width="4" height="17.5"/><rect x="702" y="1412.5" width="4" height="17.5"/><rect x="1199" y="2574.5" width="4" height="17.5"/><rect x="1199" y="1412.5" width="4" height="17.5"/><rect x="206" y="2458" width="17.5" height="5"/><rect x="1681" y="2458" width="17.5" height="5"/><rect x="206" y="2327" width="17.5" height="5"/><rect x="1681" y="2327" width="17.5" height="5"/><rect x="206" y="2196" width="17.5" height="5"/><rect x="1681" y="2196" width="17.5" height="5"/><rect x="206" y="2065" width="17.5" height="5"/><rect x="1681" y="2065" width="17.5" height="5"/><rect x="206" y="1934" width="17.5" height="5"/><rect x="1681" y="1934" width="17.5" height="5"/><rect x="206" y="1803" width="17.5" height="5"/><rect x="1681" y="1803" width="17.5" height="5"/><rect x="206" y="1672" width="17.5" height="5"/><rect x="1681" y="1672" width="17.5" height="5"/><rect x="206" y="1541" width="17.5" height="5"/><rect x="1681" y="1541" width="17.5" height="5"/></g>
<path d="M206.1,2040.0L207.5,2042.2L209.0,2044.3L210.5,2046.5L212.0,2048.6L213.6,2050.6L215.1,2052.7L216.7,2054.7L218.3,2056.7L220.0,2058.7L221.6,2060.7L223.3,2062.6L225.0,2064.6L226.7,2066.5L228.5,2068.3L230.2,2070.2L232.0,2072.0L233.8,2073.8L235.6,2075.6L237.5,2077.4L239.3,2079.1L241.2,2080.9L243.1,2082.6L245.0,2084.2L247.0,2085.9L248.9,2087.5L250.9,2089.2L252.9,2090.8L254.9,2092.3L256.9,2093.9L258.9,2095.4L261.0,2096.9L263.0,2098.4L265.1,2099.9L267.2,2101.3L269.3,2102.7L271.4,2104.2L273.6,2105.5L275.7,2106.9L277.9,2108.3L280.1,2109.6L282.2,2110.9L284.4,2112.2L286.6,2113.4L288.9,2114.7L291.1,2115.9L293.3,2117.1L295.6,2118.3L297.8,2119.5L300.1,2120.6L302.4,2121.8L304.7,2122.9L307.0,2124.0L309.3,2125.1L311.6,2126.1L314.0,2127.2L316.3,2128.2L318.6,2129.2L321.0,2130.2L323.4,2131.2L325.7,2132.1L328.1,2133.1L330.5,2134.0L332.9,2134.9L335.3,2135.8L337.7,2136.7L340.1,2137.6L342.5,2138.4L344.9,2139.3L347.3,2140.1L349.8,2140.9L352.2,2141.7L354.6,2142.5L357.1,2143.3L359.5,2144.0L362.0,2144.7L364.4,2145.5L366.9,2146.2L369.4,2146.9L371.8,2147.6L374.3,2148.3L376.8,2148.9L379.2,2149.6L381.7,2150.2L384.2,2150.8L386.7,2151.5L389.2,2152.1L391.7,2152.7L394.2,2153.3L396.7,2153.9L399.2,2154.4L401.7,2155.0L404.2,2155.6L406.7,2156.1L409.2,2156.6L411.7,2157.2L414.2,2157.7L416.7,2158.2L419.2,2158.7L421.7,2159.2L424.2,2159.7L426.8,2160.2L429.3,2160.7L431.8,2161.2L434.3,2161.7L436.8,2162.1L439.4,2162.6L441.9,2163.1L444.4,2163.5L446.9,2164.0L449.4,2164.4L452.0,2164.9L454.5,2165.3L457.0,2165.8L459.5,2166.2L462.1,2166.6L464.6,2167.1L467.1,2167.5L469.6,2167.9L472.2,2168.3L474.7,2168.7L477.2,2169.1L479.8,2169.5L482.3,2169.9L484.8,2170.3L487.3,2170.7L489.9,2171.1L492.4,2171.5L494.9,2171.9L497.5,2172.3L500.0,2172.6L502.5,2173.0L505.0,2173.4L507.6,2173.7L510.1,2174.1L512.6,2174.4L515.2,2174.8L517.7,2175.2L520.2,2175.5L522.8,2175.8L525.3,2176.2L527.8,2176.5L530.4,2176.9L532.9,2177.2L535.5,2177.5L538.0,2177.8L540.5,2178.2L543.1,2178.5L545.6,2178.8L548.1,2179.1L550.7,2179.4L553.2,2179.7L555.8,2180.0L558.3,2180.3L560.8,2180.6L563.4,2180.9L565.9,2181.2L568.5,2181.5L571.0,2181.8L573.5,2182.1L576.1,2182.4L578.6,2182.6L581.2,2182.9L583.7,2183.2L586.2,2183.5L588.8,2183.7L591.3,2184.0L593.9,2184.3L596.4,2184.5L599.0,2184.8L601.5,2185.0L604.0,2185.3L606.6,2185.5L609.1,2185.8L611.7,2186.0L614.2,2186.3L616.8,2186.5L619.3,2186.8L621.9,2187.0L624.4,2187.2L627.0,2187.5L629.5,2187.7L632.0,2187.9L634.6,2188.1L637.1,2188.4L639.7,2188.6L642.2,2188.8L644.8,2189.0L647.3,2189.2L649.9,2189.4L652.4,2189.6L655.0,2189.9L657.5,2190.1L660.1,2190.3L662.6,2190.5L665.2,2190.7L667.7,2190.9L670.3,2191.1L672.8,2191.2L675.4,2191.4L677.9,2191.6L680.5,2191.8L683.0,2192.0L685.6,2192.2L688.1,2192.4L690.7,2192.5L693.2,2192.7L695.8,2192.9L698.3,2193.1L700.9,2193.2L703.4,2193.4L706.0,2193.6L708.5,2193.7L711.1,2193.9L713.6,2194.0L716.2,2194.2L718.8,2194.4L721.3,2194.5L723.9,2194.7L726.4,2194.8L729.0,2195.0L731.5,2195.1L734.1,2195.3L736.6,2195.4L739.2,2195.6L741.7,2195.7L744.3,2195.8L746.9,2196.0L749.4,2196.1L752.0,2196.2L754.5,2196.4L757.1,2196.5L759.6,2196.6L762.2,2196.8L764.7,2196.9L767.3,2197.0L769.9,2197.1L772.4,2197.3L775.0,2197.4L777.5,2197.5L780.1,2197.6L782.6,2197.7L785.2,2197.8L787.8,2197.9L790.3,2198.1L792.9,2198.2L795.4,2198.3L798.0,2198.4L800.5,2198.5L803.1,2198.6L805.7,2198.7L808.2,2198.8L810.8,2198.9L813.3,2199.0L815.9,2199.1L818.4,2199.2L821.0,2199.3L823.6,2199.4L826.1,2199.5L828.7,2199.5L831.2,2199.6L833.8,2199.7L836.3,2199.8L838.9,2199.9L841.5,2200.0L844.0,2200.1L846.6,2200.1L849.1,2200.2L851.7,2200.3L854.3,2200.4L856.8,2200.5L859.4,2200.5L861.9,2200.6L864.5,2200.7L867.1,2200.7L869.6,2200.8L872.2,2200.9L874.7,2201.0L877.3,2201.0L879.8,2201.1L882.4,2201.2L885.0,2201.2L887.5,2201.3L890.1,2201.4L892.6,2201.4L895.2,2201.5L897.8,2201.5L900.3,2201.6L902.9,2201.7L905.4,2201.7L908.0,2201.8L910.6,2201.8L913.1,2201.9L915.7,2201.9L918.2,2202.0L920.8,2202.0L923.4,2202.1L925.9,2202.1L928.5,2202.2L931.0,2202.2L933.6,2202.3L936.2,2202.3L938.7,2202.4L941.3,2202.4L943.8,2202.5L946.4,2202.5L948.9,2202.6L951.5,2202.6L954.1,2202.7L956.6,2202.7L959.2,2202.7L961.7,2202.8L964.3,2202.8L966.9,2202.9L969.4,2202.9L972.0,2203.0L974.5,2203.0L977.1,2203.0L979.7,2203.1L982.2,2203.1L984.8,2203.1L987.3,2203.2L989.9,2203.2L992.4,2203.2L995.0,2203.3L997.6,2203.3L1000.1,2203.3L1002.7,2203.4L1005.2,2203.4L1007.8,2203.4L1010.4,2203.5L1012.9,2203.5L1015.5,2203.5L1018.0,2203.5L1020.6,2203.6L1023.1,2203.6L1025.7,2203.6L1028.3,2203.6L1030.8,2203.7L1033.4,2203.7L1035.9,2203.7L1038.5,2203.7L1041.1,2203.8L1043.6,2203.8L1046.2,2203.8L1048.7,2203.8L1051.3,2203.9L1053.8,2203.9L1056.4,2203.9L1059.0,2203.9L1061.5,2203.9L1064.1,2203.9L1066.6,2204.0L1069.2,2204.0L1071.8,2204.0L1074.3,2204.0L1076.9,2204.0L1079.4,2204.0L1082.0,2204.1L1084.5,2204.1L1087.1,2204.1L1089.7,2204.1L1092.2,2204.1L1094.8,2204.1L1097.3,2204.1L1099.9,2204.2L1102.4,2204.2L1105.0,2204.2L1107.6,2204.2L1110.1,2204.2L1112.7,2204.2L1115.2,2204.2L1117.8,2204.2L1120.4,2204.2L1122.9,2204.2L1125.5,2204.2L1128.0,2204.2L1130.6,2204.3L1133.1,2204.3L1135.7,2204.3L1138.3,2204.3L1140.8,2204.3L1143.4,2204.3L1145.9,2204.3L1148.5,2204.3L1151.0,2204.3L1153.6,2204.3L1156.2,2204.3L1158.7,2204.3L1161.3,2204.3L1163.8,2204.3L1166.4,2204.3L1169.0,2204.3L1171.5,2204.3L1174.1,2204.3L1176.6,2204.3L1179.2,2204.3L1181.7,2204.3L1184.3,2204.3L1186.9,2204.3L1189.4,2204.3L1192.0,2204.3L1194.5,2204.3L1197.1,2204.3L1199.6,2204.3L1202.2,2204.3L1204.8,2204.3L1207.3,2204.3L1209.9,2204.3L1212.4,2204.3L1215.0,2204.3L1217.5,2204.3L1220.1,2204.3L1222.7,2204.3L1225.2,2204.3L1227.8,2204.3L1230.3,2204.2L1232.9,2204.2L1235.5,2204.2L1238.0,2204.2L1240.6,2204.2L1243.1,2204.2L1245.7,2204.2L1248.2,2204.2L1250.8,2204.2L1253.4,2204.2L1255.9,2204.2L1258.5,2204.2L1261.0,2204.2L1263.6,2204.2L1266.1,2204.2L1268.7,2204.1L1271.3,2204.1L1273.8,2204.1L1276.4,2204.1L1278.9,2204.1L1281.5,2204.1L1284.0,2204.1L1286.6,2204.1L1289.2,2204.1L1291.7,2204.1L1294.3,2204.1L1296.8,2204.0L1299.4,2204.0L1302.0,2204.0L1304.5,2204.0L1307.1,2204.0L1309.6,2204.0L1312.2,2204.0L1314.7,2204.0L1317.3,2204.0L1319.9,2204.0L1322.4,2203.9L1325.0,2203.9L1327.5,2203.9L1330.1,2203.9L1332.6,2203.9L1335.2,2203.9L1337.8,2203.9L1340.3,2203.9L1342.9,2203.9L1345.4,2203.8L1348.0,2203.8L1350.6,2203.8L1353.1,2203.8L1355.7,2203.8L1358.2,2203.8L1360.8,2203.8L1363.3,2203.8L1365.9,2203.8L1368.5,2203.7L1371.0,2203.7L1373.6,2203.7L1376.1,2203.7L1378.7,2203.7L1381.2,2203.7L1383.8,2203.7L1386.4,2203.7L1388.9,2203.7L1391.5,2203.6L1394.0,2203.6L1396.6,2203.6L1399.2,2203.6L1401.7,2203.6L1404.3,2203.6L1406.8,2203.6L1409.4,2203.6L1411.9,2203.6L1414.5,2203.6L1417.1,2203.5L1419.6,2203.5L1422.2,2203.5L1424.7,2203.5L1427.3,2203.5L1429.9,2203.5L1432.4,2203.5L1435.0,2203.5L1437.5,2203.5L1440.1,2203.5L1442.6,2203.5L1445.2,2203.4L1447.8,2203.4L1450.3,2203.4L1452.9,2203.4L1455.4,2203.4L1458.0,2203.4L1460.6,2203.4L1463.1,2203.4L1465.7,2203.4L1468.2,2203.4L1470.8,2203.4L1473.3,2203.4L1475.9,2203.4L1478.5,2203.3L1481.0,2203.3L1483.6,2203.3L1486.1,2203.3L1488.7,2203.3L1491.3,2203.3L1493.8,2203.3L1496.4,2203.3L1498.9,2203.3L1501.5,2203.3L1504.1,2203.3L1506.6,2203.3L1509.2,2203.3L1511.7,2203.3L1514.3,2203.3L1516.8,2203.3L1519.4,2203.3L1522.0,2203.3L1524.5,2203.3L1527.1,2203.3L1529.6,2203.3L1532.2,2203.3L1534.8,2203.3L1537.3,2203.3L1539.9,2203.3L1542.4,2203.3L1545.0,2203.3L1547.6,2203.3L1550.1,2203.3L1552.7,2203.3L1555.2,2203.3L1557.8,2203.3L1560.4,2203.3L1562.9,2203.3L1565.5,2203.3L1568.0,2203.3L1570.6,2203.3L1573.1,2203.3L1575.7,2203.3L1578.3,2203.3L1580.8,2203.3L1583.4,2203.3L1585.9,2203.3L1588.5,2203.3L1591.1,2203.3L1593.6,2203.3L1596.2,2203.3L1598.7,2203.3L1601.3,2203.4L1603.9,2203.4L1606.4,2203.4L1609.0,2203.4L1611.5,2203.4L1614.1,2203.4L1616.7,2203.4L1619.2,2203.4L1621.8,2203.4L1624.3,2203.4L1626.9,2203.5L1629.5,2203.5L1632.0,2203.5L1634.6,2203.5L1637.1,2203.5L1639.7,2203.5L1642.3,2203.5L1644.8,2203.6L1647.4,2203.6L1649.9,2203.6L1652.5,2203.6L1655.1,2203.6L1657.6,2203.6L1660.2,2203.7L1662.7,2203.7L1665.3,2203.7L1667.9,2203.7L1670.4,2203.7L1673.0,2203.8L1675.6,2203.8L1678.1,2203.8L1680.7,2203.8L1683.2,2203.8L1685.8,2203.9L1688.4,2203.9L1690.9,2203.9L1693.5,2203.9L1696.0,2204.0L1698.6,2204.0" stroke="#0000ff" stroke-width="13.0" fill="none" stroke-linejoin="round" stroke-linecap="square"/>
<path d="M205.5,2542.5L206.7,2540.0L207.9,2537.4L209.2,2534.9L210.4,2532.4L211.6,2529.8L212.8,2527.3L214.0,2524.7L215.3,2522.2L216.5,2519.6L217.7,2517.1L218.9,2514.6L220.1,2512.0L221.4,2509.5L222.6,2506.9L223.8,2504.4L225.0,2501.8L226.2,2499.3L227.5,2496.7L228.7,2494.2L229.9,2491.6L231.1,2489.1L232.4,2486.5L233.6,2484.0L234.8,2481.5L236.1,2478.9L237.3,2476.4L238.5,2473.8L239.8,2471.3L241.0,2468.8L242.3,2466.2L243.5,2463.7L244.8,2461.1L246.0,2458.6L247.3,2456.1L248.6,2453.6L249.8,2451.0L251.1,2448.5L252.4,2446.0L253.6,2443.5L254.9,2441.0L256.2,2438.4L257.5,2435.9L258.8,2433.4L260.1,2430.9L261.4,2428.4L262.7,2425.9L264.0,2423.4L265.3,2420.9L266.7,2418.5L268.0,2416.0L269.3,2413.5L270.7,2411.0L272.0,2408.5L273.4,2406.1L274.7,2403.6L276.1,2401.1L277.5,2398.7L278.8,2396.2L280.2,2393.8L281.6,2391.3L283.0,2388.9L284.3,2386.4L285.7,2384.0L287.1,2381.5L288.5,2379.1L289.9,2376.6L291.3,2374.2L292.8,2371.8L294.2,2369.3L295.6,2366.9L297.0,2364.5L298.4,2362.0L299.9,2359.6L301.3,2357.1L302.7,2354.7L304.1,2352.3L305.6,2349.9L307.0,2347.4L308.5,2345.0L309.9,2342.6L311.4,2340.1L312.8,2337.7L314.3,2335.3L315.7,2332.8L317.2,2330.4L318.6,2327.9L320.1,2325.5L321.5,2323.1L323.0,2320.6L324.5,2318.2L325.9,2315.8L327.4,2313.4L328.9,2310.9L330.4,2308.5L331.9,2306.1L333.4,2303.7L335.0,2301.3L336.5,2298.9L338.1,2296.6L339.6,2294.2L341.2,2291.9L342.8,2289.5L344.4,2287.2L346.0,2284.9L347.7,2282.6L349.3,2280.3L351.0,2278.1L352.7,2275.8L354.5,2273.6L356.2,2271.4L358.0,2269.2L359.8,2267.1L361.6,2264.9L363.4,2262.8L365.3,2260.8L367.2,2258.7L369.1,2256.7L371.1,2254.6L373.0,2252.7L375.1,2250.7L377.1,2248.8L379.1,2246.9L381.2,2245.0L383.3,2243.2L385.4,2241.4L387.6,2239.6L389.7,2237.8L391.9,2236.1L394.1,2234.4L396.4,2232.7L398.6,2231.1L400.9,2229.4L403.1,2227.8L405.4,2226.1L407.6,2224.5L409.9,2222.8L412.1,2221.2L414.4,2219.5L416.7,2217.9L419.0,2216.2L421.3,2214.6L423.6,2213.0L425.9,2211.4L428.2,2209.8L430.5,2208.2L432.9,2206.6L435.2,2205.0L437.6,2203.5L439.9,2202.0L442.3,2200.4L444.7,2199.0L447.1,2197.5L449.5,2196.1L452.0,2194.6L454.4,2193.2L456.9,2191.9L459.4,2190.5L461.9,2189.2L464.4,2187.9L466.9,2186.6L469.4,2185.4L471.9,2184.2L474.5,2183.0L477.1,2181.8L479.6,2180.7L482.2,2179.5L484.8,2178.4L487.4,2177.4L490.0,2176.3L492.7,2175.3L495.3,2174.3L498.0,2173.3L500.6,2172.3L503.3,2171.4L506.0,2170.5L508.6,2169.6L511.3,2168.7L514.0,2167.9L516.7,2167.0L519.4,2166.2L522.2,2165.5L524.9,2164.7L527.6,2164.0L530.4,2163.2L533.1,2162.5L535.9,2161.9L538.6,2161.2L541.4,2160.6L544.1,2160.0L546.9,2159.4L549.7,2158.8L552.5,2158.3L555.3,2157.7L558.0,2157.2L560.8,2156.7L563.6,2156.3L566.4,2155.8L569.2,2155.4L572.0,2155.0L574.8,2154.6L577.6,2154.2L580.4,2153.9L583.2,2153.5L586.0,2153.2L588.8,2152.9L591.6,2152.6L594.4,2152.4L597.2,2152.1L600.0,2151.9L602.8,2151.7L605.7,2151.5L608.5,2151.3L611.3,2151.2L614.1,2151.0L616.9,2150.9L619.7,2150.8L622.5,2150.7L625.3,2150.6L628.1,2150.5L630.9,2150.5L633.8,2150.4L636.6,2150.4L639.4,2150.4L642.2,2150.4L645.0,2150.4L647.8,2150.4L650.6,2150.5L653.5,2150.5L656.3,2150.6L659.1,2150.7L661.9,2150.8L664.7,2150.9L667.5,2151.0L670.3,2151.1L673.2,2151.2L676.0,2151.3L678.8,2151.5L681.6,2151.6L684.4,2151.8L687.2,2152.0L690.1,2152.1L692.9,2152.3L695.7,2152.5L698.5,2152.7L701.3,2152.9L704.1,2153.1L707.0,2153.4L709.8,2153.6L712.6,2153.8L715.4,2154.1L718.2,2154.3L721.0,2154.6L723.9,2154.8L726.7,2155.1L729.5,2155.3L732.3,2155.6L735.1,2155.9L737.9,2156.1L740.8,2156.4L743.6,2156.7L746.4,2157.0L749.2,2157.3L752.0,2157.6L754.8,2157.8L757.7,2158.1L760.5,2158.4L763.3,2158.7L766.1,2159.0L768.9,2159.3L771.7,2159.6L774.5,2159.9L777.3,2160.2L780.2,2160.5L783.0,2160.8L785.8,2161.1L788.6,2161.4L791.4,2161.7L794.2,2162.0L797.0,2162.3L799.8,2162.6L802.6,2162.9L805.5,2163.2L808.3,2163.5L811.1,2163.8L813.9,2164.1L816.7,2164.4L819.5,2164.7L822.3,2165.0L825.1,2165.3L827.9,2165.6L830.7,2166.0L833.5,2166.3L836.3,2166.6L839.2,2166.9L842.0,2167.2L844.8,2167.5L847.6,2167.8L850.4,2168.1L853.2,2168.4L856.0,2168.7L858.8,2169.0L861.6,2169.3L864.4,2169.6L867.2,2170.0L870.0,2170.3L872.8,2170.6L875.6,2170.9L878.5,2171.2L881.3,2171.5L884.1,2171.8L886.9,2172.1L889.7,2172.4L892.5,2172.7L895.3,2173.0L898.1,2173.3L900.9,2173.6L903.7,2173.9L906.5,2174.2L909.3,2174.5L912.1,2174.8L914.9,2175.1L917.7,2175.4L920.5,2175.7L923.4,2176.0L926.2,2176.3L929.0,2176.6L931.8,2176.9L934.6,2177.1L937.4,2177.4L940.2,2177.7L943.0,2178.0L945.8,2178.3L948.6,2178.6L951.4,2178.9L954.2,2179.1L957.0,2179.4L959.8,2179.7L962.6,2180.0L965.5,2180.2L968.3,2180.5L971.1,2180.8L973.9,2181.0L976.7,2181.3L979.5,2181.6L982.3,2181.8L985.1,2182.1L987.9,2182.4L990.7,2182.6L993.5,2182.9L996.3,2183.1L999.2,2183.4L1002.0,2183.6L1004.8,2183.9L1007.6,2184.1L1010.4,2184.4L1013.2,2184.6L1016.0,2184.8L1018.8,2185.1L1021.6,2185.3L1024.4,2185.5L1027.3,2185.8L1030.1,2186.0L1032.9,2186.2L1035.7,2186.5L1038.5,2186.7L1041.3,2186.9L1044.1,2187.1L1046.9,2187.3L1049.8,2187.6L1052.6,2187.8L1055.4,2188.0L1058.2,2188.2L1061.0,2188.4L1063.8,2188.6L1066.6,2188.8L1069.4,2189.0L1072.3,2189.2L1075.1,2189.4L1077.9,2189.6L1080.7,2189.8L1083.5,2190.0L1086.3,2190.2L1089.1,2190.4L1092.0,2190.5L1094.8,2190.7L1097.6,2190.9L1100.4,2191.1L1103.2,2191.3L1106.0,2191.4L1108.9,2191.6L1111.7,2191.8L1114.5,2192.0L1117.3,2192.1L1120.1,2192.3L1122.9,2192.5L1125.8,2192.6L1128.6,2192.8L1131.4,2193.0L1134.2,2193.1L1137.0,2193.3L1139.8,2193.4L1142.7,2193.6L1145.5,2193.8L1148.3,2193.9L1151.1,2194.1L1153.9,2194.2L1156.7,2194.4L1159.6,2194.5L1162.4,2194.6L1165.2,2194.8L1168.0,2194.9L1170.8,2195.1L1173.7,2195.2L1176.5,2195.3L1179.3,2195.5L1182.1,2195.6L1184.9,2195.7L1187.7,2195.9L1190.6,2196.0L1193.4,2196.1L1196.2,2196.2L1199.0,2196.4L1201.8,2196.5L1204.7,2196.6L1207.5,2196.7L1210.3,2196.9L1213.1,2197.0L1215.9,2197.1L1218.8,2197.2L1221.6,2197.3L1224.4,2197.4L1227.2,2197.5L1230.1,2197.6L1232.9,2197.8L1235.7,2197.9L1238.5,2198.0L1241.3,2198.1L1244.2,2198.2L1247.0,2198.3L1249.8,2198.4L1252.6,2198.5L1255.4,2198.6L1258.3,2198.7L1261.1,2198.8L1263.9,2198.8L1266.7,2198.9L1269.6,2199.0L1272.4,2199.1L1275.2,2199.2L1278.0,2199.3L1280.8,2199.4L1283.7,2199.5L1286.5,2199.5L1289.3,2199.6L1292.1,2199.7L1295.0,2199.8L1297.8,2199.9L1300.6,2199.9L1303.4,2200.0L1306.2,2200.1L1309.1,2200.2L1311.9,2200.2L1314.7,2200.3L1317.5,2200.4L1320.4,2200.5L1323.2,2200.5L1326.0,2200.6L1328.8,2200.7L1331.6,2200.7L1334.5,2200.8L1337.3,2200.9L1340.1,2200.9L1342.9,2201.0L1345.8,2201.0L1348.6,2201.1L1351.4,2201.2L1354.2,2201.2L1357.1,2201.3L1359.9,2201.3L1362.7,2201.4L1365.5,2201.4L1368.4,2201.5L1371.2,2201.5L1374.0,2201.6L1376.8,2201.6L1379.6,2201.7L1382.5,2201.7L1385.3,2201.8L1388.1,2201.8L1390.9,2201.9L1393.8,2201.9L1396.6,2202.0L1399.4,2202.0L1402.2,2202.1L1405.1,2202.1L1407.9,2202.1L1410.7,2202.2L1413.5,2202.2L1416.4,2202.3L1419.2,2202.3L1422.0,2202.3L1424.8,2202.4L1427.7,2202.4L1430.5,2202.5L1433.3,2202.5L1436.1,2202.5L1439.0,2202.6L1441.8,2202.6L1444.6,2202.6L1447.4,2202.7L1450.2,2202.7L1453.1,2202.7L1455.9,2202.7L1458.7,2202.8L1461.5,2202.8L1464.4,2202.8L1467.2,2202.9L1470.0,2202.9L1472.8,2202.9L1475.7,2202.9L1478.5,2203.0L1481.3,2203.0L1484.1,2203.0L1487.0,2203.0L1489.8,2203.1L1492.6,2203.1L1495.4,2203.1L1498.3,2203.1L1501.1,2203.1L1503.9,2203.2L1506.7,2203.2L1509.6,2203.2L1512.4,2203.2L1515.2,2203.2L1518.0,2203.3L1520.8,2203.3L1523.7,2203.3L1526.5,2203.3L1529.3,2203.3L1532.1,2203.3L1535.0,2203.4L1537.8,2203.4L1540.6,2203.4L1543.4,2203.4L1546.3,2203.4L1549.1,2203.4L1551.9,2203.5L1554.7,2203.5L1557.5,2203.5L1560.4,2203.5L1563.2,2203.5L1566.0,2203.5L1568.8,2203.5L1571.7,2203.5L1574.5,2203.6L1577.3,2203.6L1580.1,2203.6L1583.0,2203.6L1585.8,2203.6L1588.6,2203.6L1591.4,2203.6L1594.2,2203.6L1597.1,2203.6L1599.9,2203.7L1602.7,2203.7L1605.5,2203.7L1608.3,2203.7L1611.2,2203.7L1614.0,2203.7L1616.8,2203.7L1619.6,2203.7L1622.5,2203.7L1625.3,2203.7L1628.1,2203.8L1630.9,2203.8L1633.7,2203.8L1636.6,2203.8L1639.4,2203.8L1642.2,2203.8L1645.0,2203.8L1647.8,2203.8L1650.7,2203.8L1653.5,2203.8L1656.3,2203.8L1659.1,2203.9L1661.9,2203.9L1664.8,2203.9L1667.6,2203.9L1670.4,2203.9L1673.2,2203.9L1676.0,2203.9L1678.9,2203.9L1681.7,2203.9L1684.5,2203.9L1687.3,2204.0L1690.1,2204.0L1693.0,2204.0L1695.8,2204.0L1698.6,2204.0" stroke="#0072bd" stroke-width="13.0" fill="none" stroke-linejoin="round" stroke-linecap="square"/>
<path d="M206.1,1463.0L206.1,1466.4L206.2,1469.7L206.5,1473.0L206.8,1476.3L207.2,1479.5L207.8,1482.8L208.4,1486.0L209.1,1489.2L209.9,1492.3L210.7,1495.5L211.6,1498.6L212.5,1501.7L213.5,1504.8L214.6,1507.9L215.6,1511.0L216.7,1514.1L217.8,1517.2L219.0,1520.2L220.1,1523.3L221.3,1526.4L222.5,1529.4L223.7,1532.5L224.8,1535.6L226.0,1538.6L227.1,1541.7L228.3,1544.8L229.4,1547.9L230.4,1551.0L231.5,1554.1L232.5,1557.2L233.5,1560.3L234.5,1563.5L235.5,1566.6L236.5,1569.7L237.5,1572.8L238.4,1576.0L239.3,1579.1L240.3,1582.3L241.2,1585.4L242.1,1588.6L243.0,1591.7L243.9,1594.9L244.8,1598.0L245.7,1601.2L246.5,1604.3L247.4,1607.5L248.3,1610.7L249.2,1613.8L250.1,1617.0L251.0,1620.1L251.9,1623.3L252.8,1626.4L253.7,1629.6L254.6,1632.7L255.5,1635.8L256.5,1639.0L257.4,1642.1L258.3,1645.3L259.3,1648.4L260.2,1651.5L261.1,1654.7L262.1,1657.8L263.1,1660.9L264.0,1664.1L265.0,1667.2L266.0,1670.3L266.9,1673.4L267.9,1676.6L268.9,1679.7L269.9,1682.8L270.9,1685.9L271.9,1689.0L272.9,1692.1L274.0,1695.2L275.0,1698.4L276.0,1701.5L277.0,1704.6L278.1,1707.7L279.1,1710.8L280.2,1713.9L281.2,1717.0L282.3,1720.1L283.3,1723.2L284.4,1726.3L285.5,1729.4L286.6,1732.5L287.7,1735.6L288.7,1738.7L289.8,1741.8L290.9,1744.9L292.1,1748.0L293.2,1751.0L294.3,1754.1L295.4,1757.2L296.5,1760.3L297.7,1763.4L298.8,1766.4L300.0,1769.5L301.1,1772.6L302.3,1775.7L303.4,1778.7L304.6,1781.8L305.7,1784.9L306.9,1787.9L308.1,1791.0L309.3,1794.0L310.5,1797.1L311.7,1800.1L312.9,1803.2L314.1,1806.2L315.3,1809.3L316.5,1812.3L317.7,1815.4L318.9,1818.4L320.1,1821.4L321.4,1824.4L322.6,1827.5L323.8,1830.5L325.1,1833.5L326.3,1836.5L327.6,1839.5L328.9,1842.6L330.1,1845.6L331.4,1848.6L332.6,1851.6L333.9,1854.6L335.2,1857.6L336.5,1860.6L337.8,1863.6L339.1,1866.6L340.4,1869.6L341.7,1872.6L343.0,1875.6L344.3,1878.6L345.6,1881.6L346.9,1884.6L348.2,1887.6L349.5,1890.6L350.9,1893.6L352.2,1896.6L353.5,1899.6L354.9,1902.6L356.2,1905.6L357.6,1908.6L358.9,1911.5L360.3,1914.5L361.6,1917.5L363.0,1920.5L364.4,1923.5L365.8,1926.5L367.2,1929.5L368.6,1932.4L370.0,1935.4L371.4,1938.4L372.8,1941.3L374.2,1944.3L375.7,1947.2L377.1,1950.2L378.5,1953.1L380.0,1956.1L381.5,1959.0L383.0,1962.0L384.4,1964.9L385.9,1967.8L387.5,1970.7L389.0,1973.6L390.5,1976.5L392.1,1979.4L393.6,1982.3L395.2,1985.2L396.8,1988.1L398.4,1990.9L400.0,1993.8L401.6,1996.6L403.2,1999.5L404.9,2002.3L406.5,2005.1L408.2,2007.9L409.9,2010.7L411.6,2013.5L413.3,2016.3L415.0,2019.1L416.8,2021.8L418.5,2024.6L420.3,2027.3L422.1,2030.1L423.9,2032.8L425.8,2035.5L427.6,2038.2L429.5,2040.9L431.4,2043.5L433.3,2046.2L435.2,2048.8L437.1,2051.4L439.1,2054.1L441.1,2056.7L443.1,2059.2L445.1,2061.8L447.1,2064.4L449.2,2066.9L451.2,2069.4L453.3,2072.0L455.5,2074.5L457.6,2076.9L459.7,2079.4L461.9,2081.9L464.1,2084.3L466.3,2086.8L468.5,2089.2L470.7,2091.7L472.9,2094.1L475.1,2096.5L477.4,2098.9L479.6,2101.3L481.8,2103.8L484.1,2106.2L486.3,2108.6L488.5,2111.0L490.8,2113.4L493.0,2115.8L495.3,2118.2L497.5,2120.7L499.7,2123.1L501.9,2125.5L504.1,2128.0L506.3,2130.4L508.5,2132.9L510.7,2135.3L512.9,2137.8L515.1,2140.2L517.3,2142.6L519.6,2145.0L521.9,2147.3L524.2,2149.5L526.6,2151.8L529.0,2153.9L531.4,2156.0L533.9,2158.0L536.5,2160.0L539.1,2161.8L541.8,2163.6L544.6,2165.4L547.3,2167.1L550.1,2168.8L552.9,2170.4L555.8,2172.1L558.6,2173.7L561.4,2175.3L564.3,2177.0L567.2,2178.6L570.0,2180.3L572.9,2181.9L575.8,2183.5L578.6,2185.1L581.5,2186.7L584.4,2188.3L587.3,2189.8L590.3,2191.4L593.2,2192.9L596.1,2194.4L599.1,2195.8L602.0,2197.3L605.0,2198.7L608.0,2200.1L611.0,2201.4L614.0,2202.7L617.0,2204.1L620.0,2205.3L623.1,2206.6L626.1,2207.8L629.2,2209.0L632.2,2210.2L635.3,2211.3L638.4,2212.4L641.5,2213.5L644.6,2214.6L647.7,2215.7L650.8,2216.7L653.9,2217.7L657.0,2218.7L660.1,2219.6L663.3,2220.6L666.4,2221.5L669.6,2222.4L672.8,2223.2L675.9,2224.1L679.1,2224.9L682.3,2225.7L685.5,2226.5L688.6,2227.2L691.8,2228.0L695.0,2228.7L698.2,2229.4L701.5,2230.0L704.7,2230.7L707.9,2231.3L711.1,2232.0L714.3,2232.6L717.6,2233.1L720.8,2233.7L724.0,2234.3L727.3,2234.8L730.5,2235.3L733.7,2235.8L737.0,2236.3L740.2,2236.7L743.5,2237.2L746.7,2237.6L750.0,2238.0L753.2,2238.4L756.5,2238.8L759.7,2239.2L763.0,2239.5L766.3,2239.8L769.5,2240.2L772.8,2240.5L776.0,2240.8L779.3,2241.0L782.6,2241.3L785.8,2241.6L789.1,2241.8L792.3,2242.0L795.6,2242.2L798.9,2242.4L802.1,2242.6L805.4,2242.8L808.7,2242.9L811.9,2243.1L815.2,2243.2L818.5,2243.4L821.7,2243.5L825.0,2243.6L828.3,2243.7L831.5,2243.7L834.8,2243.8L838.1,2243.9L841.3,2243.9L844.6,2244.0L847.9,2244.0L851.2,2244.0L854.4,2244.0L857.7,2244.0L861.0,2244.0L864.2,2244.0L867.5,2243.9L870.8,2243.9L874.1,2243.9L877.3,2243.8L880.6,2243.7L883.9,2243.7L887.2,2243.6L890.4,2243.5L893.7,2243.4L897.0,2243.3L900.3,2243.2L903.5,2243.1L906.8,2243.0L910.1,2242.8L913.4,2242.7L916.6,2242.6L919.9,2242.4L923.2,2242.3L926.5,2242.1L929.7,2241.9L933.0,2241.8L936.3,2241.6L939.6,2241.4L942.9,2241.2L946.1,2241.0L949.4,2240.8L952.7,2240.7L956.0,2240.5L959.2,2240.2L962.5,2240.0L965.8,2239.8L969.1,2239.6L972.3,2239.4L975.6,2239.2L978.9,2239.0L982.2,2238.7L985.4,2238.5L988.7,2238.3L992.0,2238.0L995.2,2237.8L998.5,2237.6L1001.8,2237.3L1005.1,2237.1L1008.3,2236.9L1011.6,2236.6L1014.9,2236.4L1018.2,2236.1L1021.4,2235.9L1024.7,2235.6L1028.0,2235.4L1031.2,2235.2L1034.5,2234.9L1037.8,2234.7L1041.0,2234.4L1044.3,2234.2L1047.6,2233.9L1050.9,2233.7L1054.1,2233.4L1057.4,2233.2L1060.7,2232.9L1063.9,2232.7L1067.2,2232.4L1070.5,2232.2L1073.7,2231.9L1077.0,2231.6L1080.3,2231.4L1083.5,2231.1L1086.8,2230.9L1090.1,2230.6L1093.3,2230.4L1096.6,2230.1L1099.9,2229.9L1103.1,2229.6L1106.4,2229.4L1109.7,2229.1L1112.9,2228.8L1116.2,2228.6L1119.4,2228.3L1122.7,2228.1L1126.0,2227.8L1129.2,2227.6L1132.5,2227.3L1135.8,2227.1L1139.0,2226.8L1142.3,2226.6L1145.6,2226.3L1148.8,2226.1L1152.1,2225.8L1155.4,2225.6L1158.6,2225.3L1161.9,2225.1L1165.2,2224.8L1168.4,2224.6L1171.7,2224.3L1174.9,2224.1L1178.2,2223.8L1181.5,2223.6L1184.7,2223.3L1188.0,2223.1L1191.3,2222.9L1194.5,2222.6L1197.8,2222.4L1201.1,2222.2L1204.3,2221.9L1207.6,2221.7L1210.9,2221.5L1214.1,2221.2L1217.4,2221.0L1220.7,2220.8L1223.9,2220.5L1227.2,2220.3L1230.4,2220.1L1233.7,2219.9L1237.0,2219.6L1240.2,2219.4L1243.5,2219.2L1246.8,2219.0L1250.0,2218.8L1253.3,2218.6L1256.6,2218.3L1259.8,2218.1L1263.1,2217.9L1266.4,2217.7L1269.7,2217.5L1272.9,2217.3L1276.2,2217.1L1279.5,2216.9L1282.7,2216.7L1286.0,2216.5L1289.3,2216.4L1292.5,2216.2L1295.8,2216.0L1299.1,2215.8L1302.3,2215.6L1305.6,2215.4L1308.9,2215.3L1312.2,2215.1L1315.4,2214.9L1318.7,2214.7L1322.0,2214.6L1325.2,2214.4L1328.5,2214.2L1331.8,2214.1L1335.1,2213.9L1338.3,2213.8L1341.6,2213.6L1344.9,2213.4L1348.1,2213.3L1351.4,2213.1L1354.7,2213.0L1358.0,2212.8L1361.2,2212.7L1364.5,2212.5L1367.8,2212.4L1371.1,2212.3L1374.3,2212.1L1377.6,2212.0L1380.9,2211.8L1384.2,2211.7L1387.4,2211.6L1390.7,2211.4L1394.0,2211.3L1397.2,2211.2L1400.5,2211.1L1403.8,2210.9L1407.1,2210.8L1410.3,2210.7L1413.6,2210.6L1416.9,2210.5L1420.2,2210.3L1423.5,2210.2L1426.7,2210.1L1430.0,2210.0L1433.3,2209.9L1436.6,2209.8L1439.8,2209.7L1443.1,2209.6L1446.4,2209.4L1449.7,2209.3L1452.9,2209.2L1456.2,2209.1L1459.5,2209.0L1462.8,2208.9L1466.0,2208.8L1469.3,2208.7L1472.6,2208.6L1475.9,2208.6L1479.1,2208.5L1482.4,2208.4L1485.7,2208.3L1489.0,2208.2L1492.3,2208.1L1495.5,2208.0L1498.8,2207.9L1502.1,2207.8L1505.4,2207.8L1508.6,2207.7L1511.9,2207.6L1515.2,2207.5L1518.5,2207.4L1521.7,2207.3L1525.0,2207.3L1528.3,2207.2L1531.6,2207.1L1534.9,2207.0L1538.1,2207.0L1541.4,2206.9L1544.7,2206.8L1548.0,2206.7L1551.2,2206.7L1554.5,2206.6L1557.8,2206.5L1561.1,2206.5L1564.3,2206.4L1567.6,2206.3L1570.9,2206.3L1574.2,2206.2L1577.5,2206.1L1580.7,2206.1L1584.0,2206.0L1587.3,2205.9L1590.6,2205.9L1593.8,2205.8L1597.1,2205.7L1600.4,2205.7L1603.7,2205.6L1606.9,2205.6L1610.2,2205.5L1613.5,2205.4L1616.8,2205.4L1620.0,2205.3L1623.3,2205.3L1626.6,2205.2L1629.9,2205.1L1633.1,2205.1L1636.4,2205.0L1639.7,2205.0L1643.0,2204.9L1646.2,2204.9L1649.5,2204.8L1652.8,2204.8L1656.1,2204.7L1659.3,2204.6L1662.6,2204.6L1665.9,2204.5L1669.1,2204.5L1672.4,2204.4L1675.7,2204.4L1679.0,2204.3L1682.2,2204.3L1685.5,2204.2L1688.8,2204.2L1692.1,2204.1L1695.3,2204.1L1698.6,2204.0" stroke="#ff0000" stroke-width="13.0" fill="none" stroke-linejoin="round" stroke-linecap="square"/>
<path d="M206.1,1437.0L207.3,1440.0L208.6,1443.0L209.8,1446.0L210.9,1449.0L212.1,1452.1L213.2,1455.1L214.4,1458.1L215.5,1461.2L216.6,1464.2L217.6,1467.3L218.7,1470.3L219.8,1473.4L220.8,1476.5L221.8,1479.5L222.8,1482.6L223.8,1485.7L224.8,1488.8L225.8,1491.8L226.8,1494.9L227.8,1498.0L228.8,1501.1L229.7,1504.2L230.7,1507.3L231.6,1510.4L232.6,1513.5L233.6,1516.6L234.5,1519.7L235.5,1522.8L236.5,1525.8L237.4,1528.9L238.4,1532.0L239.4,1535.1L240.4,1538.2L241.4,1541.3L242.4,1544.4L243.4,1547.4L244.4,1550.5L245.4,1553.6L246.4,1556.7L247.5,1559.7L248.5,1562.8L249.6,1565.9L250.6,1568.9L251.7,1572.0L252.8,1575.0L253.8,1578.1L254.9,1581.1L256.0,1584.2L257.1,1587.2L258.2,1590.3L259.3,1593.3L260.4,1596.4L261.5,1599.4L262.6,1602.5L263.7,1605.5L264.8,1608.6L266.0,1611.6L267.1,1614.6L268.2,1617.7L269.3,1620.7L270.4,1623.8L271.5,1626.8L272.7,1629.9L273.8,1632.9L274.9,1635.9L276.0,1639.0L277.2,1642.0L278.3,1645.0L279.4,1648.1L280.6,1651.1L281.7,1654.2L282.8,1657.2L284.0,1660.2L285.1,1663.2L286.3,1666.3L287.4,1669.3L288.6,1672.3L289.7,1675.4L290.9,1678.4L292.1,1681.4L293.2,1684.4L294.4,1687.4L295.6,1690.5L296.8,1693.5L298.0,1696.5L299.2,1699.5L300.4,1702.5L301.6,1705.5L302.8,1708.5L304.0,1711.5L305.2,1714.5L306.5,1717.5L307.7,1720.5L309.0,1723.5L310.2,1726.5L311.5,1729.4L312.7,1732.4L314.0,1735.4L315.3,1738.4L316.6,1741.3L317.9,1744.3L319.2,1747.3L320.5,1750.2L321.8,1753.2L323.1,1756.2L324.4,1759.1L325.7,1762.1L327.0,1765.1L328.3,1768.0L329.6,1771.0L330.9,1773.9L332.2,1776.9L333.6,1779.9L334.9,1782.8L336.2,1785.8L337.5,1788.7L338.8,1791.7L340.1,1794.7L341.4,1797.6L342.7,1800.6L344.1,1803.6L345.4,1806.5L346.7,1809.5L347.9,1812.5L349.2,1815.4L350.5,1818.4L351.8,1821.4L353.1,1824.3L354.4,1827.3L355.7,1830.3L357.0,1833.2L358.3,1836.2L359.6,1839.2L361.0,1842.1L362.3,1845.1L363.6,1848.0L365.0,1851.0L366.3,1853.9L367.7,1856.9L369.1,1859.8L370.4,1862.7L371.8,1865.6L373.2,1868.5L374.7,1871.5L376.1,1874.4L377.5,1877.3L379.0,1880.1L380.4,1883.0L381.9,1885.9L383.4,1888.8L384.9,1891.7L386.4,1894.5L387.9,1897.4L389.4,1900.2L391.0,1903.1L392.5,1905.9L394.1,1908.7L395.7,1911.6L397.2,1914.4L398.8,1917.2L400.4,1920.0L402.0,1922.8L403.6,1925.6L405.3,1928.4L406.9,1931.2L408.6,1934.0L410.2,1936.8L411.9,1939.6L413.5,1942.3L415.2,1945.1L416.9,1947.9L418.6,1950.6L420.3,1953.4L422.1,1956.1L423.8,1958.9L425.5,1961.6L427.3,1964.3L429.0,1967.1L430.8,1969.8L432.6,1972.5L434.3,1975.2L436.1,1977.9L437.9,1980.6L439.7,1983.3L441.5,1986.0L443.4,1988.7L445.2,1991.4L447.0,1994.1L448.9,1996.7L450.7,1999.4L452.6,2002.1L454.5,2004.7L456.4,2007.3L458.3,2010.0L460.2,2012.6L462.1,2015.2L464.1,2017.8L466.0,2020.4L468.0,2023.0L470.0,2025.5L472.0,2028.1L474.0,2030.6L476.0,2033.1L478.0,2035.7L480.1,2038.2L482.2,2040.6L484.3,2043.1L486.4,2045.6L488.5,2048.0L490.6,2050.4L492.8,2052.8L495.0,2055.2L497.2,2057.6L499.4,2059.9L501.6,2062.3L503.8,2064.6L506.1,2066.9L508.4,2069.2L510.7,2071.5L513.0,2073.7L515.3,2076.0L517.6,2078.2L520.0,2080.4L522.4,2082.6L524.8,2084.8L527.2,2086.9L529.6,2089.1L532.0,2091.2L534.5,2093.3L536.9,2095.4L539.4,2097.5L541.8,2099.6L544.3,2101.7L546.8,2103.8L549.3,2105.8L551.8,2107.9L554.3,2110.0L556.8,2112.0L559.3,2114.1L561.9,2116.1L564.4,2118.2L566.9,2120.2L569.4,2122.3L572.0,2124.3L574.5,2126.3L577.1,2128.3L579.6,2130.3L582.2,2132.3L584.7,2134.3L587.3,2136.3L589.9,2138.3L592.5,2140.3L595.1,2142.3L597.7,2144.2L600.3,2146.2L602.9,2148.1L605.5,2150.0L608.1,2151.9L610.8,2153.8L613.4,2155.7L616.1,2157.6L618.7,2159.4L621.4,2161.2L624.1,2163.0L626.8,2164.8L629.5,2166.6L632.3,2168.3L635.0,2170.0L637.8,2171.6L640.5,2173.3L643.3,2174.9L646.2,2176.5L649.0,2178.0L651.8,2179.5L654.7,2180.9L657.6,2182.4L660.5,2183.8L663.4,2185.1L666.4,2186.4L669.3,2187.7L672.3,2188.9L675.3,2190.1L678.3,2191.3L681.3,2192.4L684.4,2193.5L687.4,2194.6L690.5,2195.7L693.6,2196.7L696.7,2197.6L699.8,2198.6L702.9,2199.5L706.0,2200.4L709.1,2201.3L712.3,2202.1L715.4,2202.9L718.6,2203.7L721.7,2204.4L724.9,2205.2L728.1,2205.9L731.3,2206.5L734.5,2207.2L737.7,2207.8L740.8,2208.4L744.1,2209.0L747.3,2209.5L750.5,2210.1L753.7,2210.6L756.9,2211.1L760.1,2211.6L763.3,2212.0L766.5,2212.5L769.7,2212.9L773.0,2213.3L776.2,2213.7L779.4,2214.0L782.6,2214.4L785.8,2214.7L789.1,2215.1L792.3,2215.4L795.5,2215.7L798.7,2216.0L802.0,2216.2L805.2,2216.5L808.4,2216.7L811.6,2217.0L814.9,2217.2L818.1,2217.4L821.3,2217.6L824.6,2217.9L827.8,2218.1L831.0,2218.2L834.3,2218.4L837.5,2218.6L840.7,2218.8L844.0,2219.0L847.2,2219.1L850.4,2219.3L853.7,2219.5L856.9,2219.6L860.1,2219.8L863.4,2219.9L866.6,2220.1L869.8,2220.3L873.1,2220.4L876.3,2220.6L879.5,2220.7L882.8,2220.9L886.0,2221.0L889.3,2221.2L892.5,2221.4L895.7,2221.5L899.0,2221.7L902.2,2221.8L905.4,2222.0L908.7,2222.1L911.9,2222.3L915.1,2222.4L918.4,2222.6L921.6,2222.7L924.9,2222.8L928.1,2223.0L931.3,2223.1L934.6,2223.2L937.8,2223.4L941.0,2223.5L944.3,2223.6L947.5,2223.7L950.8,2223.8L954.0,2223.9L957.2,2224.1L960.5,2224.2L963.7,2224.2L967.0,2224.3L970.2,2224.4L973.4,2224.5L976.7,2224.6L979.9,2224.6L983.1,2224.7L986.4,2224.8L989.6,2224.8L992.9,2224.9L996.1,2224.9L999.3,2224.9L1002.6,2225.0L1005.8,2225.0L1009.0,2225.0L1012.3,2225.0L1015.5,2225.0L1018.8,2225.0L1022.0,2225.0L1025.2,2225.0L1028.5,2225.0L1031.7,2224.9L1034.9,2224.9L1038.2,2224.9L1041.4,2224.8L1044.6,2224.8L1047.9,2224.7L1051.1,2224.7L1054.4,2224.6L1057.6,2224.5L1060.8,2224.5L1064.1,2224.4L1067.3,2224.3L1070.5,2224.2L1073.8,2224.1L1077.0,2224.0L1080.3,2223.9L1083.5,2223.8L1086.7,2223.7L1090.0,2223.6L1093.2,2223.5L1096.4,2223.4L1099.7,2223.3L1102.9,2223.1L1106.1,2223.0L1109.4,2222.9L1112.6,2222.7L1115.8,2222.6L1119.1,2222.5L1122.3,2222.3L1125.6,2222.2L1128.8,2222.0L1132.0,2221.9L1135.3,2221.7L1138.5,2221.6L1141.7,2221.4L1145.0,2221.3L1148.2,2221.1L1151.4,2220.9L1154.7,2220.8L1157.9,2220.6L1161.1,2220.4L1164.4,2220.2L1167.6,2220.1L1170.9,2219.9L1174.1,2219.7L1177.3,2219.6L1180.6,2219.4L1183.8,2219.2L1187.0,2219.0L1190.3,2218.8L1193.5,2218.7L1196.7,2218.5L1200.0,2218.3L1203.2,2218.1L1206.4,2217.9L1209.7,2217.7L1212.9,2217.6L1216.2,2217.4L1219.4,2217.2L1222.6,2217.0L1225.9,2216.8L1229.1,2216.7L1232.3,2216.5L1235.6,2216.3L1238.8,2216.1L1242.0,2215.9L1245.3,2215.8L1248.5,2215.6L1251.8,2215.4L1255.0,2215.2L1258.2,2215.1L1261.5,2214.9L1264.7,2214.7L1267.9,2214.6L1271.2,2214.4L1274.4,2214.2L1277.6,2214.1L1280.9,2213.9L1284.1,2213.8L1287.3,2213.6L1290.6,2213.5L1293.8,2213.3L1297.1,2213.2L1300.3,2213.0L1303.5,2212.9L1306.8,2212.7L1310.0,2212.6L1313.2,2212.5L1316.5,2212.3L1319.7,2212.2L1323.0,2212.1L1326.2,2211.9L1329.4,2211.8L1332.7,2211.7L1335.9,2211.5L1339.1,2211.4L1342.4,2211.3L1345.6,2211.2L1348.8,2211.1L1352.1,2211.0L1355.3,2210.8L1358.6,2210.7L1361.8,2210.6L1365.0,2210.5L1368.3,2210.4L1371.5,2210.3L1374.7,2210.2L1378.0,2210.1L1381.2,2210.0L1384.5,2209.9L1387.7,2209.8L1390.9,2209.7L1394.2,2209.6L1397.4,2209.5L1400.6,2209.4L1403.9,2209.3L1407.1,2209.2L1410.4,2209.2L1413.6,2209.1L1416.8,2209.0L1420.1,2208.9L1423.3,2208.8L1426.5,2208.7L1429.8,2208.7L1433.0,2208.6L1436.3,2208.5L1439.5,2208.4L1442.7,2208.3L1446.0,2208.3L1449.2,2208.2L1452.4,2208.1L1455.7,2208.1L1458.9,2208.0L1462.2,2207.9L1465.4,2207.8L1468.6,2207.8L1471.9,2207.7L1475.1,2207.6L1478.4,2207.6L1481.6,2207.5L1484.8,2207.5L1488.1,2207.4L1491.3,2207.3L1494.5,2207.3L1497.8,2207.2L1501.0,2207.2L1504.3,2207.1L1507.5,2207.0L1510.7,2207.0L1514.0,2206.9L1517.2,2206.9L1520.5,2206.8L1523.7,2206.8L1526.9,2206.7L1530.2,2206.6L1533.4,2206.6L1536.6,2206.5L1539.9,2206.5L1543.1,2206.4L1546.4,2206.4L1549.6,2206.3L1552.8,2206.3L1556.1,2206.2L1559.3,2206.2L1562.6,2206.1L1565.8,2206.1L1569.0,2206.0L1572.3,2206.0L1575.5,2205.9L1578.7,2205.9L1582.0,2205.8L1585.2,2205.8L1588.5,2205.7L1591.7,2205.7L1594.9,2205.6L1598.2,2205.6L1601.4,2205.5L1604.7,2205.5L1607.9,2205.5L1611.1,2205.4L1614.4,2205.4L1617.6,2205.3L1620.9,2205.3L1624.1,2205.2L1627.3,2205.2L1630.6,2205.1L1633.8,2205.1L1637.1,2205.0L1640.3,2205.0L1643.5,2204.9L1646.8,2204.9L1650.0,2204.8L1653.2,2204.8L1656.5,2204.7L1659.7,2204.7L1663.0,2204.6L1666.2,2204.6L1669.4,2204.5L1672.7,2204.4L1675.9,2204.4L1679.2,2204.3L1682.4,2204.3L1685.6,2204.2L1688.9,2204.2L1692.1,2204.1L1695.4,2204.1L1698.6,2204.0" stroke="#d95319" stroke-width="13.0" fill="none" stroke-linejoin="round" stroke-linecap="square"/>
<path d="M206.1,1727.0L206.8,1729.8L207.5,1732.7L208.2,1735.5L209.0,1738.4L209.7,1741.2L210.4,1744.1L211.2,1746.9L211.9,1749.8L212.7,1752.6L213.5,1755.4L214.2,1758.3L215.0,1761.1L215.8,1763.9L216.6,1766.8L217.4,1769.6L218.2,1772.4L219.0,1775.2L219.8,1778.1L220.6,1780.9L221.4,1783.7L222.3,1786.5L223.1,1789.3L223.9,1792.2L224.8,1795.0L225.7,1797.8L226.5,1800.6L227.4,1803.4L228.3,1806.2L229.2,1809.0L230.1,1811.8L231.0,1814.6L231.9,1817.4L232.8,1820.2L233.7,1823.0L234.6,1825.8L235.6,1828.6L236.5,1831.4L237.5,1834.1L238.4,1836.9L239.4,1839.7L240.3,1842.5L241.3,1845.2L242.3,1848.0L243.3,1850.8L244.3,1853.5L245.3,1856.3L246.3,1859.0L247.4,1861.8L248.4,1864.6L249.4,1867.3L250.5,1870.0L251.5,1872.8L252.6,1875.5L253.7,1878.3L254.8,1881.0L255.8,1883.7L256.9,1886.4L258.1,1889.2L259.2,1891.9L260.3,1894.6L261.4,1897.3L262.6,1900.0L263.7,1902.7L264.9,1905.4L266.0,1908.1L267.2,1910.8L268.4,1913.5L269.6,1916.2L270.8,1918.9L272.0,1921.5L273.2,1924.2L274.4,1926.9L275.6,1929.6L276.9,1932.2L278.1,1934.9L279.4,1937.5L280.6,1940.2L281.9,1942.8L283.2,1945.5L284.5,1948.1L285.8,1950.7L287.1,1953.4L288.4,1956.0L289.8,1958.6L291.1,1961.2L292.5,1963.8L293.8,1966.4L295.2,1969.0L296.6,1971.6L298.0,1974.2L299.4,1976.8L300.8,1979.4L302.2,1982.0L303.6,1984.5L305.0,1987.1L306.5,1989.7L307.9,1992.2L309.4,1994.8L310.9,1997.3L312.4,1999.8L313.9,2002.4L315.4,2004.9L316.9,2007.4L318.5,2009.9L320.0,2012.4L321.6,2014.9L323.2,2017.4L324.7,2019.8L326.3,2022.3L328.0,2024.8L329.6,2027.2L331.2,2029.7L332.9,2032.1L334.5,2034.5L336.2,2036.9L337.9,2039.3L339.6,2041.7L341.3,2044.1L343.1,2046.5L344.8,2048.8L346.6,2051.2L348.4,2053.5L350.2,2055.8L352.0,2058.1L353.8,2060.5L355.7,2062.7L357.5,2065.0L359.4,2067.3L361.3,2069.5L363.2,2071.8L365.2,2074.0L367.1,2076.2L369.1,2078.4L371.0,2080.6L373.0,2082.8L375.1,2084.9L377.1,2087.0L379.1,2089.1L381.2,2091.2L383.3,2093.3L385.4,2095.3L387.6,2097.3L389.7,2099.3L391.9,2101.3L394.1,2103.2L396.3,2105.1L398.5,2107.0L400.8,2108.9L403.0,2110.7L405.3,2112.6L407.6,2114.3L410.0,2116.1L412.3,2117.8L414.7,2119.6L417.1,2121.3L419.4,2123.0L421.8,2124.6L424.3,2126.3L426.7,2127.9L429.1,2129.5L431.6,2131.2L434.0,2132.8L436.5,2134.3L439.0,2135.9L441.4,2137.5L443.9,2139.1L446.4,2140.6L448.9,2142.2L451.4,2143.8L453.9,2145.3L456.4,2146.8L458.9,2148.3L461.4,2149.9L464.0,2151.4L466.5,2152.9L469.0,2154.3L471.6,2155.8L474.1,2157.3L476.7,2158.7L479.2,2160.2L481.8,2161.6L484.4,2163.0L487.0,2164.5L489.6,2165.9L492.2,2167.3L494.8,2168.6L497.4,2170.0L500.0,2171.3L502.6,2172.7L505.2,2174.0L507.9,2175.3L510.5,2176.6L513.2,2177.9L515.8,2179.2L518.5,2180.4L521.1,2181.7L523.8,2182.9L526.5,2184.1L529.2,2185.3L531.9,2186.5L534.6,2187.6L537.3,2188.8L540.0,2189.9L542.7,2191.0L545.5,2192.1L548.2,2193.2L550.9,2194.2L553.7,2195.3L556.4,2196.3L559.2,2197.3L562.0,2198.2L564.7,2199.2L567.5,2200.1L570.3,2201.1L573.1,2202.0L575.9,2202.9L578.7,2203.7L581.5,2204.6L584.3,2205.4L587.1,2206.2L590.0,2207.0L592.8,2207.8L595.6,2208.5L598.5,2209.3L601.3,2210.0L604.2,2210.7L607.0,2211.4L609.9,2212.1L612.7,2212.7L615.6,2213.4L618.5,2214.0L621.4,2214.6L624.2,2215.2L627.1,2215.8L630.0,2216.3L632.9,2216.9L635.8,2217.4L638.7,2217.9L641.6,2218.4L644.5,2218.9L647.4,2219.3L650.3,2219.8L653.2,2220.2L656.1,2220.6L659.0,2221.0L661.9,2221.4L664.8,2221.8L667.7,2222.1L670.6,2222.4L673.6,2222.8L676.5,2223.1L679.4,2223.4L682.3,2223.7L685.3,2224.0L688.2,2224.2L691.1,2224.5L694.0,2224.7L697.0,2224.9L699.9,2225.2L702.8,2225.4L705.8,2225.6L708.7,2225.7L711.6,2225.9L714.6,2226.1L717.5,2226.2L720.5,2226.4L723.4,2226.5L726.3,2226.7L729.3,2226.8L732.2,2226.9L735.2,2227.0L738.1,2227.1L741.0,2227.2L744.0,2227.3L746.9,2227.4L749.9,2227.5L752.8,2227.5L755.7,2227.6L758.7,2227.6L761.6,2227.7L764.6,2227.7L767.5,2227.8L770.4,2227.8L773.4,2227.9L776.3,2227.9L779.3,2227.9L782.2,2227.9L785.2,2228.0L788.1,2228.0L791.0,2228.0L794.0,2228.0L796.9,2228.0L799.8,2228.0L802.8,2228.0L805.7,2227.9L808.7,2227.9L811.6,2227.9L814.5,2227.9L817.5,2227.8L820.4,2227.8L823.4,2227.8L826.3,2227.7L829.2,2227.7L832.2,2227.6L835.1,2227.6L838.0,2227.5L841.0,2227.5L843.9,2227.4L846.9,2227.4L849.8,2227.3L852.7,2227.2L855.7,2227.1L858.6,2227.1L861.5,2227.0L864.5,2226.9L867.4,2226.8L870.4,2226.7L873.3,2226.6L876.2,2226.6L879.2,2226.5L882.1,2226.4L885.0,2226.3L888.0,2226.2L890.9,2226.1L893.8,2226.0L896.8,2225.8L899.7,2225.7L902.6,2225.6L905.6,2225.5L908.5,2225.4L911.5,2225.3L914.4,2225.2L917.3,2225.0L920.3,2224.9L923.2,2224.8L926.1,2224.7L929.1,2224.5L932.0,2224.4L934.9,2224.3L937.9,2224.2L940.8,2224.0L943.7,2223.9L946.7,2223.8L949.6,2223.6L952.6,2223.5L955.5,2223.4L958.4,2223.2L961.4,2223.1L964.3,2223.0L967.2,2222.8L970.2,2222.7L973.1,2222.6L976.0,2222.4L979.0,2222.3L981.9,2222.2L984.8,2222.0L987.8,2221.9L990.7,2221.7L993.6,2221.6L996.6,2221.5L999.5,2221.3L1002.4,2221.2L1005.4,2221.1L1008.3,2220.9L1011.3,2220.8L1014.2,2220.7L1017.1,2220.5L1020.1,2220.4L1023.0,2220.3L1025.9,2220.1L1028.9,2220.0L1031.8,2219.9L1034.7,2219.7L1037.7,2219.6L1040.6,2219.5L1043.5,2219.4L1046.5,2219.2L1049.4,2219.1L1052.4,2219.0L1055.3,2218.8L1058.2,2218.7L1061.2,2218.6L1064.1,2218.5L1067.0,2218.3L1070.0,2218.2L1072.9,2218.1L1075.8,2218.0L1078.8,2217.8L1081.7,2217.7L1084.6,2217.6L1087.6,2217.5L1090.5,2217.3L1093.5,2217.2L1096.4,2217.1L1099.3,2217.0L1102.3,2216.9L1105.2,2216.7L1108.1,2216.6L1111.1,2216.5L1114.0,2216.4L1116.9,2216.3L1119.9,2216.1L1122.8,2216.0L1125.8,2215.9L1128.7,2215.8L1131.6,2215.7L1134.6,2215.6L1137.5,2215.5L1140.4,2215.3L1143.4,2215.2L1146.3,2215.1L1149.2,2215.0L1152.2,2214.9L1155.1,2214.8L1158.0,2214.7L1161.0,2214.6L1163.9,2214.4L1166.9,2214.3L1169.8,2214.2L1172.7,2214.1L1175.7,2214.0L1178.6,2213.9L1181.5,2213.8L1184.5,2213.7L1187.4,2213.6L1190.4,2213.5L1193.3,2213.4L1196.2,2213.3L1199.2,2213.2L1202.1,2213.1L1205.0,2213.0L1208.0,2212.8L1210.9,2212.7L1213.8,2212.6L1216.8,2212.5L1219.7,2212.4L1222.7,2212.3L1225.6,2212.2L1228.5,2212.1L1231.5,2212.0L1234.4,2211.9L1237.3,2211.9L1240.3,2211.8L1243.2,2211.7L1246.1,2211.6L1249.1,2211.5L1252.0,2211.4L1255.0,2211.3L1257.9,2211.2L1260.8,2211.1L1263.8,2211.0L1266.7,2210.9L1269.6,2210.8L1272.6,2210.7L1275.5,2210.6L1278.5,2210.5L1281.4,2210.5L1284.3,2210.4L1287.3,2210.3L1290.2,2210.2L1293.1,2210.1L1296.1,2210.0L1299.0,2209.9L1302.0,2209.8L1304.9,2209.8L1307.8,2209.7L1310.8,2209.6L1313.7,2209.5L1316.6,2209.4L1319.6,2209.3L1322.5,2209.3L1325.5,2209.2L1328.4,2209.1L1331.3,2209.0L1334.3,2208.9L1337.2,2208.9L1340.1,2208.8L1343.1,2208.7L1346.0,2208.6L1349.0,2208.6L1351.9,2208.5L1354.8,2208.4L1357.8,2208.3L1360.7,2208.3L1363.6,2208.2L1366.6,2208.1L1369.5,2208.0L1372.5,2208.0L1375.4,2207.9L1378.3,2207.8L1381.3,2207.8L1384.2,2207.7L1387.1,2207.6L1390.1,2207.5L1393.0,2207.5L1396.0,2207.4L1398.9,2207.3L1401.8,2207.3L1404.8,2207.2L1407.7,2207.2L1410.6,2207.1L1413.6,2207.0L1416.5,2207.0L1419.5,2206.9L1422.4,2206.8L1425.3,2206.8L1428.3,2206.7L1431.2,2206.7L1434.1,2206.6L1437.1,2206.5L1440.0,2206.5L1443.0,2206.4L1445.9,2206.4L1448.8,2206.3L1451.8,2206.3L1454.7,2206.2L1457.6,2206.2L1460.6,2206.1L1463.5,2206.1L1466.5,2206.0L1469.4,2206.0L1472.3,2205.9L1475.3,2205.9L1478.2,2205.8L1481.2,2205.8L1484.1,2205.7L1487.0,2205.7L1490.0,2205.6L1492.9,2205.6L1495.8,2205.5L1498.8,2205.5L1501.7,2205.4L1504.7,2205.4L1507.6,2205.4L1510.5,2205.3L1513.5,2205.3L1516.4,2205.2L1519.3,2205.2L1522.3,2205.1L1525.2,2205.1L1528.2,2205.1L1531.1,2205.0L1534.0,2205.0L1537.0,2205.0L1539.9,2204.9L1542.9,2204.9L1545.8,2204.9L1548.7,2204.8L1551.7,2204.8L1554.6,2204.8L1557.5,2204.7L1560.5,2204.7L1563.4,2204.7L1566.4,2204.6L1569.3,2204.6L1572.2,2204.6L1575.2,2204.6L1578.1,2204.5L1581.1,2204.5L1584.0,2204.5L1586.9,2204.5L1589.9,2204.4L1592.8,2204.4L1595.7,2204.4L1598.7,2204.4L1601.6,2204.4L1604.6,2204.3L1607.5,2204.3L1610.4,2204.3L1613.4,2204.3L1616.3,2204.3L1619.3,2204.3L1622.2,2204.2L1625.1,2204.2L1628.1,2204.2L1631.0,2204.2L1633.9,2204.2L1636.9,2204.2L1639.8,2204.2L1642.8,2204.1L1645.7,2204.1L1648.6,2204.1L1651.6,2204.1L1654.5,2204.1L1657.5,2204.1L1660.4,2204.1L1663.3,2204.1L1666.3,2204.1L1669.2,2204.1L1672.2,2204.1L1675.1,2204.1L1678.0,2204.1L1681.0,2204.1L1683.9,2204.1L1686.8,2204.1L1689.8,2204.1L1692.7,2204.1L1695.7,2204.1L1698.6,2204.1" stroke="#edb120" stroke-width="16.8" fill="none" stroke-linecap="round" stroke-linejoin="round"/>
<g font-size="45" fill="#262626"><text x="188" y="2610.8" text-anchor="end">0</text><text x="188" y="2479.7" text-anchor="end">0.05</text><text x="188" y="2348.7" text-anchor="end">0.1</text><text x="188" y="2217.6" text-anchor="end">0.15</text><text x="188" y="2086.6" text-anchor="end">0.2</text><text x="188" y="1955.5" text-anchor="end">0.25</text><text x="188" y="1824.5" text-anchor="end">0.3</text><text x="188" y="1693.4" text-anchor="end">0.35</text><text x="188" y="1562.4" text-anchor="end">0.4</text><text x="188" y="1431.3" text-anchor="end">0.45</text><text x="206.0" y="2655.0" text-anchor="middle">0</text><text x="703.5" y="2655.0" text-anchor="middle">500</text><text x="1201.0" y="2655.0" text-anchor="middle">1000</text><text x="1698.5" y="2655.0" text-anchor="middle">1500</text></g>
<text x="952.2" y="2719.8" font-size="52" fill="#262626" text-anchor="middle">t</text>
<text transform="translate(73.5,2002.2) rotate(-90)" font-size="52" fill="#262626" text-anchor="middle">R(t)</text>
<rect x="1437" y="1457.0" width="217.0" height="267.5" fill="#ffffff" stroke="#262626" stroke-width="4"/>
<rect x="1458" y="1484.0" width="150" height="13" fill="#0000ff"/>
<text x="1615" y="1505.7" font-size="41" fill="#000">1</text>
<rect x="1458" y="1534.3" width="150" height="13" fill="#0072bd"/>
<text x="1615" y="1556.0" font-size="41" fill="#000">2</text>
<rect x="1458" y="1584.7" width="150" height="13" fill="#ff0000"/>
<text x="1615" y="1606.4" font-size="41" fill="#000">3</text>
<rect x="1458" y="1635.0" width="150" height="13" fill="#d95319"/>
<text x="1615" y="1656.8" font-size="41" fill="#000">4</text>
<circle cx="1533.5" cy="1691.9" r="8.4" fill="#edb120"/>
<text x="1615" y="1707.1" font-size="41" fill="#000">5</text>
</svg>
</body></html>
